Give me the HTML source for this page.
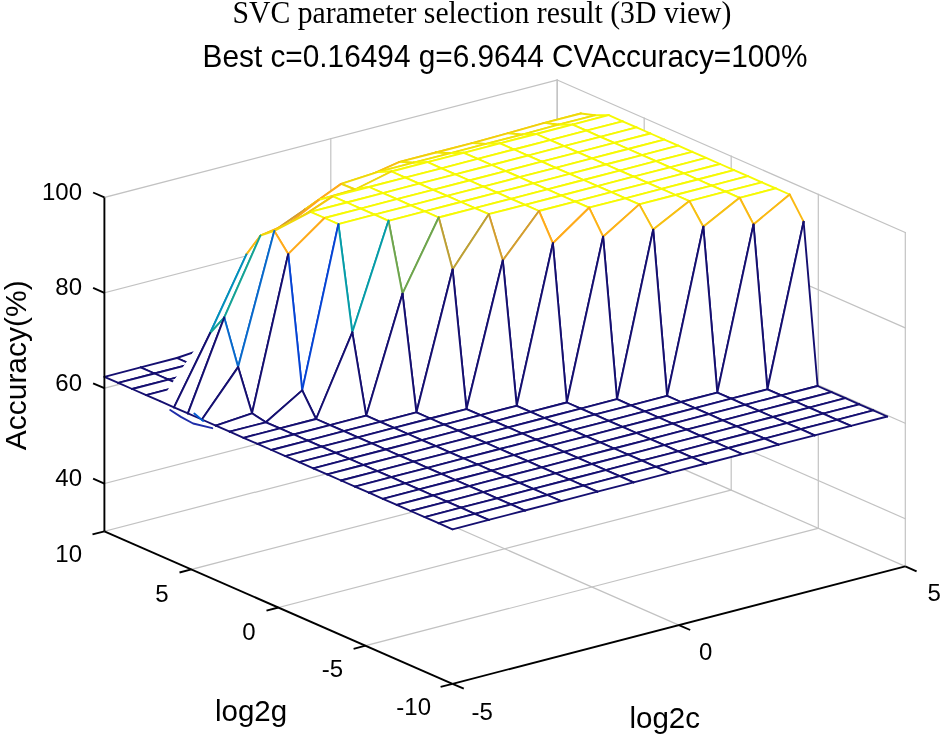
<!DOCTYPE html>
<html><head><meta charset="utf-8"><style>html,body{margin:0;padding:0;background:#fff;}body{width:942px;height:739px;position:relative;overflow:hidden;}</style></head>
<body>
<svg width="942" height="739" viewBox="0 0 942 739" style="position:absolute;left:0;top:0">
<g stroke-linecap="square"><line x1="104.4" y1="483.6" x2="557.2" y2="366.2" stroke="#c2c2c2" stroke-width="1.2"/><line x1="557.2" y1="366.2" x2="905.3" y2="518.7" stroke="#c2c2c2" stroke-width="1.2"/><line x1="104.4" y1="388.2" x2="557.2" y2="270.8" stroke="#c2c2c2" stroke-width="1.2"/><line x1="557.2" y1="270.8" x2="905.3" y2="423.3" stroke="#c2c2c2" stroke-width="1.2"/><line x1="104.4" y1="292.8" x2="557.2" y2="175.4" stroke="#c2c2c2" stroke-width="1.2"/><line x1="557.2" y1="175.4" x2="905.3" y2="327.9" stroke="#c2c2c2" stroke-width="1.2"/><line x1="104.4" y1="197.4" x2="557.2" y2="80" stroke="#c2c2c2" stroke-width="1.2"/><line x1="557.2" y1="80" x2="905.3" y2="232.5" stroke="#c2c2c2" stroke-width="1.2"/><line x1="330.8" y1="472.6" x2="330.8" y2="138.7" stroke="#c2c2c2" stroke-width="1.2"/><line x1="557.2" y1="413.9" x2="557.2" y2="80" stroke="#c2c2c2" stroke-width="1.2"/><line x1="557.2" y1="413.9" x2="557.2" y2="80" stroke="#c2c2c2" stroke-width="1.2"/><line x1="644.2" y1="452" x2="644.2" y2="118.1" stroke="#c2c2c2" stroke-width="1.2"/><line x1="731.2" y1="490.1" x2="731.2" y2="156.2" stroke="#c2c2c2" stroke-width="1.2"/><line x1="818.3" y1="528.3" x2="818.3" y2="194.4" stroke="#c2c2c2" stroke-width="1.2"/><line x1="905.3" y1="566.4" x2="905.3" y2="232.5" stroke="#c2c2c2" stroke-width="1.2"/><line x1="678.9" y1="625.1" x2="330.8" y2="472.6" stroke="#c2c2c2" stroke-width="1.2"/><line x1="905.3" y1="566.4" x2="557.2" y2="413.9" stroke="#c2c2c2" stroke-width="1.2"/><line x1="104.4" y1="531.3" x2="557.2" y2="413.9" stroke="#c2c2c2" stroke-width="1.2"/><line x1="191.4" y1="569.4" x2="644.2" y2="452" stroke="#c2c2c2" stroke-width="1.2"/><line x1="278.4" y1="607.5" x2="731.2" y2="490.1" stroke="#c2c2c2" stroke-width="1.2"/><line x1="365.5" y1="645.7" x2="818.3" y2="528.3" stroke="#c2c2c2" stroke-width="1.2"/></g>
<g stroke-width="1.9" stroke-linecap="round"><polygon points="516.8,143.1 553,133.7 539.1,151.5 502.9,160.9" fill="#fff" stroke="none"/><line x1="516.8" y1="143.1" x2="553" y2="133.7" stroke="#c89f32"/><line x1="553" y1="133.7" x2="539.1" y2="151.5" stroke="#c89f32"/><line x1="502.9" y1="160.9" x2="539.1" y2="151.5" stroke="#6ea54d"/><line x1="516.8" y1="143.1" x2="502.9" y2="160.9" stroke="#c89f32"/><polygon points="530.7,131.1 566.9,121.7 553,133.7 516.8,143.1" fill="#fff" stroke="none"/><line x1="530.7" y1="131.1" x2="566.9" y2="121.7" stroke="#fdb216"/><line x1="566.9" y1="121.7" x2="553" y2="133.7" stroke="#fdb216"/><line x1="516.8" y1="143.1" x2="553" y2="133.7" stroke="#c89f32"/><line x1="530.7" y1="131.1" x2="516.8" y2="143.1" stroke="#fdb216"/><polygon points="480.6,154.9 516.8,143.1 502.9,160.9 466.6,172.6" fill="#fff" stroke="none"/><line x1="480.6" y1="154.9" x2="516.8" y2="143.1" stroke="#bda035"/><line x1="516.8" y1="143.1" x2="502.9" y2="160.9" stroke="#c89f32"/><line x1="466.6" y1="172.6" x2="502.9" y2="160.9" stroke="#62a551"/><line x1="480.6" y1="154.9" x2="466.6" y2="172.6" stroke="#bda035"/><polygon points="544.6,122.9 580.9,113.5 566.9,121.7 530.7,131.1" fill="#fff" stroke="none"/><line x1="544.6" y1="122.9" x2="580.9" y2="113.5" stroke="#efd80a"/><line x1="580.9" y1="113.5" x2="566.9" y2="121.7" stroke="#efd80a"/><line x1="530.7" y1="131.1" x2="566.9" y2="121.7" stroke="#fdb216"/><line x1="544.6" y1="122.9" x2="530.7" y2="131.1" stroke="#efd80a"/><polygon points="494.5,141.9 530.7,131.1 516.8,143.1 480.6,154.9" fill="#fff" stroke="none"/><line x1="494.5" y1="141.9" x2="530.7" y2="131.1" stroke="#ffab1a"/><line x1="530.7" y1="131.1" x2="516.8" y2="143.1" stroke="#fdb216"/><line x1="480.6" y1="154.9" x2="516.8" y2="143.1" stroke="#bda035"/><line x1="494.5" y1="141.9" x2="480.6" y2="154.9" stroke="#ffab1a"/><polygon points="558.6,124.7 594.8,115.3 580.9,113.5 544.6,122.9" fill="#fff" stroke="none"/><line x1="558.6" y1="124.7" x2="594.8" y2="115.3" stroke="#f0e207"/><line x1="594.8" y1="115.3" x2="580.9" y2="113.5" stroke="#f0e207"/><line x1="544.6" y1="122.9" x2="580.9" y2="113.5" stroke="#efd80a"/><line x1="558.6" y1="124.7" x2="544.6" y2="122.9" stroke="#f0e207"/><polygon points="444.3,166.7 480.6,154.9 466.6,172.6 430.4,184.4" fill="#fff" stroke="none"/><line x1="444.3" y1="166.7" x2="480.6" y2="154.9" stroke="#b2a138"/><line x1="480.6" y1="154.9" x2="466.6" y2="172.6" stroke="#bda035"/><line x1="430.4" y1="184.4" x2="466.6" y2="172.6" stroke="#57a556"/><line x1="444.3" y1="166.7" x2="430.4" y2="184.4" stroke="#b2a138"/><polygon points="508.4,133.2 544.6,122.9 530.7,131.1 494.5,141.9" fill="#fff" stroke="none"/><line x1="508.4" y1="133.2" x2="544.6" y2="122.9" stroke="#f1cf0c"/><line x1="544.6" y1="122.9" x2="530.7" y2="131.1" stroke="#efd80a"/><line x1="494.5" y1="141.9" x2="530.7" y2="131.1" stroke="#ffab1a"/><line x1="508.4" y1="133.2" x2="494.5" y2="141.9" stroke="#f1cf0c"/><polygon points="572.5,124.6 608.7,115.2 594.8,115.3 558.6,124.7" fill="#fff" stroke="none"/><line x1="572.5" y1="124.6" x2="608.7" y2="115.2" stroke="#f6f903"/><line x1="608.7" y1="115.2" x2="594.8" y2="115.3" stroke="#f6f903"/><line x1="558.6" y1="124.7" x2="594.8" y2="115.3" stroke="#f0e207"/><line x1="572.5" y1="124.6" x2="558.6" y2="124.7" stroke="#f6f903"/><polygon points="458.3,152.3 494.5,141.9 480.6,154.9 444.3,166.7" fill="#fff" stroke="none"/><line x1="458.3" y1="152.3" x2="494.5" y2="141.9" stroke="#ffab1a"/><line x1="494.5" y1="141.9" x2="480.6" y2="154.9" stroke="#ffab1a"/><line x1="444.3" y1="166.7" x2="480.6" y2="154.9" stroke="#b2a138"/><line x1="458.3" y1="152.3" x2="444.3" y2="166.7" stroke="#ffab1a"/><polygon points="522.3,134.6 558.6,124.7 544.6,122.9 508.4,133.2" fill="#fff" stroke="none"/><line x1="522.3" y1="134.6" x2="558.6" y2="124.7" stroke="#f0e207"/><line x1="558.6" y1="124.7" x2="544.6" y2="122.9" stroke="#f0e207"/><line x1="508.4" y1="133.2" x2="544.6" y2="122.9" stroke="#f1cf0c"/><line x1="522.3" y1="134.6" x2="508.4" y2="133.2" stroke="#f0e207"/><polygon points="408.1,178.4 444.3,166.7 430.4,184.4 394.2,198.6" fill="#fff" stroke="none"/><line x1="408.1" y1="178.4" x2="444.3" y2="166.7" stroke="#b2a138"/><line x1="444.3" y1="166.7" x2="430.4" y2="184.4" stroke="#b2a138"/><line x1="394.2" y1="198.6" x2="430.4" y2="184.4" stroke="#4cae6e"/><line x1="408.1" y1="178.4" x2="394.2" y2="198.6" stroke="#b2a138"/><polygon points="586.4,130.7 622.6,121.3 608.7,115.2 572.5,124.6" fill="#fff" stroke="none"/><line x1="586.4" y1="130.7" x2="622.6" y2="121.3" stroke="#f6f903"/><line x1="622.6" y1="121.3" x2="608.7" y2="115.2" stroke="#f6f903"/><line x1="572.5" y1="124.6" x2="608.7" y2="115.2" stroke="#f6f903"/><line x1="586.4" y1="130.7" x2="572.5" y2="124.6" stroke="#f6f903"/><polygon points="472.2,143.1 508.4,133.2 494.5,141.9 458.3,152.3" fill="#fff" stroke="none"/><line x1="472.2" y1="143.1" x2="508.4" y2="133.2" stroke="#f1cf0c"/><line x1="508.4" y1="133.2" x2="494.5" y2="141.9" stroke="#f1cf0c"/><line x1="458.3" y1="152.3" x2="494.5" y2="141.9" stroke="#ffab1a"/><line x1="472.2" y1="143.1" x2="458.3" y2="152.3" stroke="#f1cf0c"/><polygon points="536.3,134 572.5,124.6 558.6,124.7 522.3,134.6" fill="#fff" stroke="none"/><line x1="536.3" y1="134" x2="572.5" y2="124.6" stroke="#f6f903"/><line x1="572.5" y1="124.6" x2="558.6" y2="124.7" stroke="#f6f903"/><line x1="522.3" y1="134.6" x2="558.6" y2="124.7" stroke="#f0e207"/><line x1="536.3" y1="134" x2="522.3" y2="134.6" stroke="#f6f903"/><polygon points="422,163.1 458.3,152.3 444.3,166.7 408.1,178.4" fill="#fff" stroke="none"/><line x1="422" y1="163.1" x2="458.3" y2="152.3" stroke="#fda41e"/><line x1="458.3" y1="152.3" x2="444.3" y2="166.7" stroke="#ffab1a"/><line x1="408.1" y1="178.4" x2="444.3" y2="166.7" stroke="#b2a138"/><line x1="422" y1="163.1" x2="408.1" y2="178.4" stroke="#fda41e"/><polygon points="600.3,136.8 636.6,127.4 622.6,121.3 586.4,130.7" fill="#fff" stroke="none"/><line x1="600.3" y1="136.8" x2="636.6" y2="127.4" stroke="#f6f903"/><line x1="636.6" y1="127.4" x2="622.6" y2="121.3" stroke="#f6f903"/><line x1="586.4" y1="130.7" x2="622.6" y2="121.3" stroke="#f6f903"/><line x1="600.3" y1="136.8" x2="586.4" y2="130.7" stroke="#f6f903"/><polygon points="486.1,143.9 522.3,134.6 508.4,133.2 472.2,143.1" fill="#fff" stroke="none"/><line x1="486.1" y1="143.9" x2="522.3" y2="134.6" stroke="#f0e207"/><line x1="522.3" y1="134.6" x2="508.4" y2="133.2" stroke="#f0e207"/><line x1="472.2" y1="143.1" x2="508.4" y2="133.2" stroke="#f1cf0c"/><line x1="486.1" y1="143.9" x2="472.2" y2="143.1" stroke="#f0e207"/><polygon points="371.9,195 408.1,178.4 394.2,198.6 358,217.5" fill="#fff" stroke="none"/><line x1="371.9" y1="195" x2="408.1" y2="178.4" stroke="#90a342"/><line x1="408.1" y1="178.4" x2="394.2" y2="198.6" stroke="#b2a138"/><line x1="358" y1="217.5" x2="394.2" y2="198.6" stroke="#2caa82"/><line x1="371.9" y1="195" x2="358" y2="217.5" stroke="#90a342"/><polygon points="550.2,140.1 586.4,130.7 572.5,124.6 536.3,134" fill="#fff" stroke="none"/><line x1="550.2" y1="140.1" x2="586.4" y2="130.7" stroke="#f6f903"/><line x1="586.4" y1="130.7" x2="572.5" y2="124.6" stroke="#f6f903"/><line x1="536.3" y1="134" x2="572.5" y2="124.6" stroke="#f6f903"/><line x1="550.2" y1="140.1" x2="536.3" y2="134" stroke="#f6f903"/><polygon points="436,152.5 472.2,143.1 458.3,152.3 422,163.1" fill="#fff" stroke="none"/><line x1="436" y1="152.5" x2="472.2" y2="143.1" stroke="#f1cf0c"/><line x1="472.2" y1="143.1" x2="458.3" y2="152.3" stroke="#f1cf0c"/><line x1="422" y1="163.1" x2="458.3" y2="152.3" stroke="#fda41e"/><line x1="436" y1="152.5" x2="422" y2="163.1" stroke="#f1cf0c"/><polygon points="614.3,142.9 650.5,133.5 636.6,127.4 600.3,136.8" fill="#fff" stroke="none"/><line x1="614.3" y1="142.9" x2="650.5" y2="133.5" stroke="#f6f903"/><line x1="650.5" y1="133.5" x2="636.6" y2="127.4" stroke="#f6f903"/><line x1="600.3" y1="136.8" x2="636.6" y2="127.4" stroke="#f6f903"/><line x1="614.3" y1="142.9" x2="600.3" y2="136.8" stroke="#f6f903"/><polygon points="500,143.4 536.3,134 522.3,134.6 486.1,143.9" fill="#fff" stroke="none"/><line x1="500" y1="143.4" x2="536.3" y2="134" stroke="#f6f903"/><line x1="536.3" y1="134" x2="522.3" y2="134.6" stroke="#f6f903"/><line x1="486.1" y1="143.9" x2="522.3" y2="134.6" stroke="#f0e207"/><line x1="500" y1="143.4" x2="486.1" y2="143.9" stroke="#f6f903"/><polygon points="385.8,179.6 422,163.1 408.1,178.4 371.9,195" fill="#fff" stroke="none"/><line x1="385.8" y1="179.6" x2="422" y2="163.1" stroke="#ea9e28"/><line x1="422" y1="163.1" x2="408.1" y2="178.4" stroke="#fda41e"/><line x1="371.9" y1="195" x2="408.1" y2="178.4" stroke="#90a342"/><line x1="385.8" y1="179.6" x2="371.9" y2="195" stroke="#ea9e28"/><polygon points="564.1,146.2 600.3,136.8 586.4,130.7 550.2,140.1" fill="#fff" stroke="none"/><line x1="564.1" y1="146.2" x2="600.3" y2="136.8" stroke="#f6f903"/><line x1="600.3" y1="136.8" x2="586.4" y2="130.7" stroke="#f6f903"/><line x1="550.2" y1="140.1" x2="586.4" y2="130.7" stroke="#f6f903"/><line x1="564.1" y1="146.2" x2="550.2" y2="140.1" stroke="#f6f903"/><polygon points="449.9,153.3 486.1,143.9 472.2,143.1 436,152.5" fill="#fff" stroke="none"/><line x1="449.9" y1="153.3" x2="486.1" y2="143.9" stroke="#f0e207"/><line x1="486.1" y1="143.9" x2="472.2" y2="143.1" stroke="#f0e207"/><line x1="436" y1="152.5" x2="472.2" y2="143.1" stroke="#f1cf0c"/><line x1="449.9" y1="153.3" x2="436" y2="152.5" stroke="#f0e207"/><polygon points="335.7,213.9 371.9,195 358,217.5 321.7,241.2" fill="#fff" stroke="none"/><line x1="335.7" y1="213.9" x2="371.9" y2="195" stroke="#6ea54d"/><line x1="371.9" y1="195" x2="358" y2="217.5" stroke="#90a342"/><line x1="321.7" y1="241.2" x2="358" y2="217.5" stroke="#0a9ea2"/><line x1="335.7" y1="213.9" x2="321.7" y2="241.2" stroke="#6ea54d"/><polygon points="628.2,149 664.4,139.6 650.5,133.5 614.3,142.9" fill="#fff" stroke="none"/><line x1="628.2" y1="149" x2="664.4" y2="139.6" stroke="#f6f903"/><line x1="664.4" y1="139.6" x2="650.5" y2="133.5" stroke="#f6f903"/><line x1="614.3" y1="142.9" x2="650.5" y2="133.5" stroke="#f6f903"/><line x1="628.2" y1="149" x2="614.3" y2="142.9" stroke="#f6f903"/><polygon points="514,149.5 550.2,140.1 536.3,134 500,143.4" fill="#fff" stroke="none"/><line x1="514" y1="149.5" x2="550.2" y2="140.1" stroke="#f6f903"/><line x1="550.2" y1="140.1" x2="536.3" y2="134" stroke="#f6f903"/><line x1="500" y1="143.4" x2="536.3" y2="134" stroke="#f6f903"/><line x1="514" y1="149.5" x2="500" y2="143.4" stroke="#f6f903"/><polygon points="399.7,161.9 436,152.5 422,163.1 385.8,179.6" fill="#fff" stroke="none"/><line x1="399.7" y1="161.9" x2="436" y2="152.5" stroke="#f1cf0c"/><line x1="436" y1="152.5" x2="422" y2="163.1" stroke="#f1cf0c"/><line x1="385.8" y1="179.6" x2="422" y2="163.1" stroke="#ea9e28"/><line x1="399.7" y1="161.9" x2="385.8" y2="179.6" stroke="#f1cf0c"/><polygon points="578,152.3 614.3,142.9 600.3,136.8 564.1,146.2" fill="#fff" stroke="none"/><line x1="578" y1="152.3" x2="614.3" y2="142.9" stroke="#f6f903"/><line x1="614.3" y1="142.9" x2="600.3" y2="136.8" stroke="#f6f903"/><line x1="564.1" y1="146.2" x2="600.3" y2="136.8" stroke="#f6f903"/><line x1="578" y1="152.3" x2="564.1" y2="146.2" stroke="#f6f903"/><polygon points="463.8,152.8 500,143.4 486.1,143.9 449.9,153.3" fill="#fff" stroke="none"/><line x1="463.8" y1="152.8" x2="500" y2="143.4" stroke="#f6f903"/><line x1="500" y1="143.4" x2="486.1" y2="143.9" stroke="#f6f903"/><line x1="449.9" y1="153.3" x2="486.1" y2="143.9" stroke="#f0e207"/><line x1="463.8" y1="152.8" x2="449.9" y2="153.3" stroke="#f6f903"/><polygon points="349.6,196.2 385.8,179.6 371.9,195 335.7,213.9" fill="#fff" stroke="none"/><line x1="349.6" y1="196.2" x2="385.8" y2="179.6" stroke="#c89f32"/><line x1="385.8" y1="179.6" x2="371.9" y2="195" stroke="#ea9e28"/><line x1="335.7" y1="213.9" x2="371.9" y2="195" stroke="#6ea54d"/><line x1="349.6" y1="196.2" x2="335.7" y2="213.9" stroke="#c89f32"/><polygon points="642.1,155.1 678.3,145.7 664.4,139.6 628.2,149" fill="#fff" stroke="none"/><line x1="642.1" y1="155.1" x2="678.3" y2="145.7" stroke="#f6f903"/><line x1="678.3" y1="145.7" x2="664.4" y2="139.6" stroke="#f6f903"/><line x1="628.2" y1="149" x2="664.4" y2="139.6" stroke="#f6f903"/><line x1="642.1" y1="155.1" x2="628.2" y2="149" stroke="#f6f903"/><polygon points="527.9,155.6 564.1,146.2 550.2,140.1 514,149.5" fill="#fff" stroke="none"/><line x1="527.9" y1="155.6" x2="564.1" y2="146.2" stroke="#f6f903"/><line x1="564.1" y1="146.2" x2="550.2" y2="140.1" stroke="#f6f903"/><line x1="514" y1="149.5" x2="550.2" y2="140.1" stroke="#f6f903"/><line x1="527.9" y1="155.6" x2="514" y2="149.5" stroke="#f6f903"/><polygon points="413.7,162.7 449.9,153.3 436,152.5 399.7,161.9" fill="#fff" stroke="none"/><line x1="413.7" y1="162.7" x2="449.9" y2="153.3" stroke="#f0e207"/><line x1="449.9" y1="153.3" x2="436" y2="152.5" stroke="#f0e207"/><line x1="399.7" y1="161.9" x2="436" y2="152.5" stroke="#f1cf0c"/><line x1="413.7" y1="162.7" x2="399.7" y2="161.9" stroke="#f0e207"/><polygon points="299.4,242.4 335.7,213.9 321.7,241.2 285.5,274.5" fill="#fff" stroke="none"/><line x1="299.4" y1="242.4" x2="335.7" y2="213.9" stroke="#2caa82"/><line x1="335.7" y1="213.9" x2="321.7" y2="241.2" stroke="#6ea54d"/><line x1="285.5" y1="274.5" x2="321.7" y2="241.2" stroke="#057dc6"/><line x1="299.4" y1="242.4" x2="285.5" y2="274.5" stroke="#2caa82"/><polygon points="592,158.4 628.2,149 614.3,142.9 578,152.3" fill="#fff" stroke="none"/><line x1="592" y1="158.4" x2="628.2" y2="149" stroke="#f6f903"/><line x1="628.2" y1="149" x2="614.3" y2="142.9" stroke="#f6f903"/><line x1="578" y1="152.3" x2="614.3" y2="142.9" stroke="#f6f903"/><line x1="592" y1="158.4" x2="578" y2="152.3" stroke="#f6f903"/><polygon points="477.7,158.9 514,149.5 500,143.4 463.8,152.8" fill="#fff" stroke="none"/><line x1="477.7" y1="158.9" x2="514" y2="149.5" stroke="#f6f903"/><line x1="514" y1="149.5" x2="500" y2="143.4" stroke="#f6f903"/><line x1="463.8" y1="152.8" x2="500" y2="143.4" stroke="#f6f903"/><line x1="477.7" y1="158.9" x2="463.8" y2="152.8" stroke="#f6f903"/><polygon points="363.5,178 399.7,161.9 385.8,179.6 349.6,196.2" fill="#fff" stroke="none"/><line x1="363.5" y1="178" x2="399.7" y2="161.9" stroke="#f7c011"/><line x1="399.7" y1="161.9" x2="385.8" y2="179.6" stroke="#f1cf0c"/><line x1="349.6" y1="196.2" x2="385.8" y2="179.6" stroke="#c89f32"/><line x1="363.5" y1="178" x2="349.6" y2="196.2" stroke="#f7c011"/><polygon points="656,161.2 692.3,151.8 678.3,145.7 642.1,155.1" fill="#fff" stroke="none"/><line x1="656" y1="161.2" x2="692.3" y2="151.8" stroke="#f6f903"/><line x1="692.3" y1="151.8" x2="678.3" y2="145.7" stroke="#f6f903"/><line x1="642.1" y1="155.1" x2="678.3" y2="145.7" stroke="#f6f903"/><line x1="656" y1="161.2" x2="642.1" y2="155.1" stroke="#f6f903"/><polygon points="541.8,161.7 578,152.3 564.1,146.2 527.9,155.6" fill="#fff" stroke="none"/><line x1="541.8" y1="161.7" x2="578" y2="152.3" stroke="#f6f903"/><line x1="578" y1="152.3" x2="564.1" y2="146.2" stroke="#f6f903"/><line x1="527.9" y1="155.6" x2="564.1" y2="146.2" stroke="#f6f903"/><line x1="541.8" y1="161.7" x2="527.9" y2="155.6" stroke="#f6f903"/><polygon points="427.6,162.2 463.8,152.8 449.9,153.3 413.7,162.7" fill="#fff" stroke="none"/><line x1="427.6" y1="162.2" x2="463.8" y2="152.8" stroke="#f6f903"/><line x1="463.8" y1="152.8" x2="449.9" y2="153.3" stroke="#f6f903"/><line x1="413.7" y1="162.7" x2="449.9" y2="153.3" stroke="#f0e207"/><line x1="427.6" y1="162.2" x2="413.7" y2="162.7" stroke="#f6f903"/><polygon points="313.4,219.9 349.6,196.2 335.7,213.9 299.4,242.4" fill="#fff" stroke="none"/><line x1="313.4" y1="219.9" x2="349.6" y2="196.2" stroke="#90a342"/><line x1="349.6" y1="196.2" x2="335.7" y2="213.9" stroke="#c89f32"/><line x1="299.4" y1="242.4" x2="335.7" y2="213.9" stroke="#2caa82"/><line x1="313.4" y1="219.9" x2="299.4" y2="242.4" stroke="#90a342"/><polygon points="605.9,164.5 642.1,155.1 628.2,149 592,158.4" fill="#fff" stroke="none"/><line x1="605.9" y1="164.5" x2="642.1" y2="155.1" stroke="#f6f903"/><line x1="642.1" y1="155.1" x2="628.2" y2="149" stroke="#f6f903"/><line x1="592" y1="158.4" x2="628.2" y2="149" stroke="#f6f903"/><line x1="605.9" y1="164.5" x2="592" y2="158.4" stroke="#f6f903"/><polygon points="491.7,165 527.9,155.6 514,149.5 477.7,158.9" fill="#fff" stroke="none"/><line x1="491.7" y1="165" x2="527.9" y2="155.6" stroke="#f6f903"/><line x1="527.9" y1="155.6" x2="514" y2="149.5" stroke="#f6f903"/><line x1="477.7" y1="158.9" x2="514" y2="149.5" stroke="#f6f903"/><line x1="491.7" y1="165" x2="477.7" y2="158.9" stroke="#f6f903"/><polygon points="377.4,172.1 413.7,162.7 399.7,161.9 363.5,178" fill="#fff" stroke="none"/><line x1="377.4" y1="172.1" x2="413.7" y2="162.7" stroke="#f0e207"/><line x1="413.7" y1="162.7" x2="399.7" y2="161.9" stroke="#f0e207"/><line x1="363.5" y1="178" x2="399.7" y2="161.9" stroke="#f7c011"/><line x1="377.4" y1="172.1" x2="363.5" y2="178" stroke="#f0e207"/><polygon points="263.2,280.4 299.4,242.4 285.5,274.5 249.3,312.5" fill="#fff" stroke="none"/><line x1="263.2" y1="280.4" x2="299.4" y2="242.4" stroke="#028fbc"/><line x1="299.4" y1="242.4" x2="285.5" y2="274.5" stroke="#2caa82"/><line x1="249.3" y1="312.5" x2="285.5" y2="274.5" stroke="#0050d9"/><line x1="263.2" y1="280.4" x2="249.3" y2="312.5" stroke="#028fbc"/><polygon points="670,167.3 706.2,157.9 692.3,151.8 656,161.2" fill="#fff" stroke="none"/><line x1="670" y1="167.3" x2="706.2" y2="157.9" stroke="#f6f903"/><line x1="706.2" y1="157.9" x2="692.3" y2="151.8" stroke="#f6f903"/><line x1="656" y1="161.2" x2="692.3" y2="151.8" stroke="#f6f903"/><line x1="670" y1="167.3" x2="656" y2="161.2" stroke="#f6f903"/><polygon points="555.7,167.8 592,158.4 578,152.3 541.8,161.7" fill="#fff" stroke="none"/><line x1="555.7" y1="167.8" x2="592" y2="158.4" stroke="#f6f903"/><line x1="592" y1="158.4" x2="578" y2="152.3" stroke="#f6f903"/><line x1="541.8" y1="161.7" x2="578" y2="152.3" stroke="#f6f903"/><line x1="555.7" y1="167.8" x2="541.8" y2="161.7" stroke="#f6f903"/><polygon points="441.5,168.3 477.7,158.9 463.8,152.8 427.6,162.2" fill="#fff" stroke="none"/><line x1="441.5" y1="168.3" x2="477.7" y2="158.9" stroke="#f6f903"/><line x1="477.7" y1="158.9" x2="463.8" y2="152.8" stroke="#f6f903"/><line x1="427.6" y1="162.2" x2="463.8" y2="152.8" stroke="#f6f903"/><line x1="441.5" y1="168.3" x2="427.6" y2="162.2" stroke="#f6f903"/><polygon points="327.3,197.4 363.5,178 349.6,196.2 313.4,219.9" fill="#fff" stroke="none"/><line x1="327.3" y1="197.4" x2="363.5" y2="178" stroke="#fda41e"/><line x1="363.5" y1="178" x2="349.6" y2="196.2" stroke="#f7c011"/><line x1="313.4" y1="219.9" x2="349.6" y2="196.2" stroke="#90a342"/><line x1="327.3" y1="197.4" x2="313.4" y2="219.9" stroke="#fda41e"/><polygon points="619.8,170.6 656,161.2 642.1,155.1 605.9,164.5" fill="#fff" stroke="none"/><line x1="619.8" y1="170.6" x2="656" y2="161.2" stroke="#f6f903"/><line x1="656" y1="161.2" x2="642.1" y2="155.1" stroke="#f6f903"/><line x1="605.9" y1="164.5" x2="642.1" y2="155.1" stroke="#f6f903"/><line x1="619.8" y1="170.6" x2="605.9" y2="164.5" stroke="#f6f903"/><polygon points="505.6,171.1 541.8,161.7 527.9,155.6 491.7,165" fill="#fff" stroke="none"/><line x1="505.6" y1="171.1" x2="541.8" y2="161.7" stroke="#f6f903"/><line x1="541.8" y1="161.7" x2="527.9" y2="155.6" stroke="#f6f903"/><line x1="491.7" y1="165" x2="527.9" y2="155.6" stroke="#f6f903"/><line x1="505.6" y1="171.1" x2="491.7" y2="165" stroke="#f6f903"/><polygon points="391.4,171.5 427.6,162.2 413.7,162.7 377.4,172.1" fill="#fff" stroke="none"/><line x1="391.4" y1="171.5" x2="427.6" y2="162.2" stroke="#f6f903"/><line x1="427.6" y1="162.2" x2="413.7" y2="162.7" stroke="#f6f903"/><line x1="377.4" y1="172.1" x2="413.7" y2="162.7" stroke="#f0e207"/><line x1="391.4" y1="171.5" x2="377.4" y2="172.1" stroke="#f6f903"/><polygon points="277.1,248.4 313.4,219.9 299.4,242.4 263.2,280.4" fill="#fff" stroke="none"/><line x1="277.1" y1="248.4" x2="313.4" y2="219.9" stroke="#4cae6e"/><line x1="313.4" y1="219.9" x2="299.4" y2="242.4" stroke="#90a342"/><line x1="263.2" y1="280.4" x2="299.4" y2="242.4" stroke="#028fbc"/><line x1="277.1" y1="248.4" x2="263.2" y2="280.4" stroke="#4cae6e"/><polygon points="683.9,173.4 720.1,164 706.2,157.9 670,167.3" fill="#fff" stroke="none"/><line x1="683.9" y1="173.4" x2="720.1" y2="164" stroke="#f6f903"/><line x1="720.1" y1="164" x2="706.2" y2="157.9" stroke="#f6f903"/><line x1="670" y1="167.3" x2="706.2" y2="157.9" stroke="#f6f903"/><line x1="683.9" y1="173.4" x2="670" y2="167.3" stroke="#f6f903"/><polygon points="569.7,173.9 605.9,164.5 592,158.4 555.7,167.8" fill="#fff" stroke="none"/><line x1="569.7" y1="173.9" x2="605.9" y2="164.5" stroke="#f6f903"/><line x1="605.9" y1="164.5" x2="592" y2="158.4" stroke="#f6f903"/><line x1="555.7" y1="167.8" x2="592" y2="158.4" stroke="#f6f903"/><line x1="569.7" y1="173.9" x2="555.7" y2="167.8" stroke="#f6f903"/><polygon points="455.4,174.4 491.7,165 477.7,158.9 441.5,168.3" fill="#fff" stroke="none"/><line x1="455.4" y1="174.4" x2="491.7" y2="165" stroke="#f6f903"/><line x1="491.7" y1="165" x2="477.7" y2="158.9" stroke="#f6f903"/><line x1="441.5" y1="168.3" x2="477.7" y2="158.9" stroke="#f6f903"/><line x1="455.4" y1="174.4" x2="441.5" y2="168.3" stroke="#f6f903"/><polygon points="341.2,183.9 377.4,172.1 363.5,178 327.3,197.4" fill="#fff" stroke="none"/><line x1="341.2" y1="183.9" x2="377.4" y2="172.1" stroke="#efd80a"/><line x1="377.4" y1="172.1" x2="363.5" y2="178" stroke="#f0e207"/><line x1="327.3" y1="197.4" x2="363.5" y2="178" stroke="#fda41e"/><line x1="341.2" y1="183.9" x2="327.3" y2="197.4" stroke="#efd80a"/><polygon points="227,328 263.2,280.4 249.3,312.5 213.1,345.7" fill="#fff" stroke="none"/><line x1="227" y1="328" x2="263.2" y2="280.4" stroke="#0050d9"/><line x1="263.2" y1="280.4" x2="249.3" y2="312.5" stroke="#028fbc"/><line x1="213.1" y1="345.7" x2="249.3" y2="312.5" stroke="#150f70"/><line x1="227" y1="328" x2="213.1" y2="345.7" stroke="#0050d9"/><polygon points="633.7,176.7 670,167.3 656,161.2 619.8,170.6" fill="#fff" stroke="none"/><line x1="633.7" y1="176.7" x2="670" y2="167.3" stroke="#f6f903"/><line x1="670" y1="167.3" x2="656" y2="161.2" stroke="#f6f903"/><line x1="619.8" y1="170.6" x2="656" y2="161.2" stroke="#f6f903"/><line x1="633.7" y1="176.7" x2="619.8" y2="170.6" stroke="#f6f903"/><polygon points="519.5,177.2 555.7,167.8 541.8,161.7 505.6,171.1" fill="#fff" stroke="none"/><line x1="519.5" y1="177.2" x2="555.7" y2="167.8" stroke="#f6f903"/><line x1="555.7" y1="167.8" x2="541.8" y2="161.7" stroke="#f6f903"/><line x1="505.6" y1="171.1" x2="541.8" y2="161.7" stroke="#f6f903"/><line x1="519.5" y1="177.2" x2="505.6" y2="171.1" stroke="#f6f903"/><polygon points="405.3,177.6 441.5,168.3 427.6,162.2 391.4,171.5" fill="#fff" stroke="none"/><line x1="405.3" y1="177.6" x2="441.5" y2="168.3" stroke="#f6f903"/><line x1="441.5" y1="168.3" x2="427.6" y2="162.2" stroke="#f6f903"/><line x1="391.4" y1="171.5" x2="427.6" y2="162.2" stroke="#f6f903"/><line x1="405.3" y1="177.6" x2="391.4" y2="171.5" stroke="#f6f903"/><polygon points="291.1,223.4 327.3,197.4 313.4,219.9 277.1,248.4" fill="#fff" stroke="none"/><line x1="291.1" y1="223.4" x2="327.3" y2="197.4" stroke="#bda035"/><line x1="327.3" y1="197.4" x2="313.4" y2="219.9" stroke="#fda41e"/><line x1="277.1" y1="248.4" x2="313.4" y2="219.9" stroke="#4cae6e"/><line x1="291.1" y1="223.4" x2="277.1" y2="248.4" stroke="#bda035"/><polygon points="697.8,179.5 734,170.1 720.1,164 683.9,173.4" fill="#fff" stroke="none"/><line x1="697.8" y1="179.5" x2="734" y2="170.1" stroke="#f6f903"/><line x1="734" y1="170.1" x2="720.1" y2="164" stroke="#f6f903"/><line x1="683.9" y1="173.4" x2="720.1" y2="164" stroke="#f6f903"/><line x1="697.8" y1="179.5" x2="683.9" y2="173.4" stroke="#f6f903"/><polygon points="583.6,180 619.8,170.6 605.9,164.5 569.7,173.9" fill="#fff" stroke="none"/><line x1="583.6" y1="180" x2="619.8" y2="170.6" stroke="#f6f903"/><line x1="619.8" y1="170.6" x2="605.9" y2="164.5" stroke="#f6f903"/><line x1="569.7" y1="173.9" x2="605.9" y2="164.5" stroke="#f6f903"/><line x1="583.6" y1="180" x2="569.7" y2="173.9" stroke="#f6f903"/><polygon points="469.4,180.5 505.6,171.1 491.7,165 455.4,174.4" fill="#fff" stroke="none"/><line x1="469.4" y1="180.5" x2="505.6" y2="171.1" stroke="#f6f903"/><line x1="505.6" y1="171.1" x2="491.7" y2="165" stroke="#f6f903"/><line x1="455.4" y1="174.4" x2="491.7" y2="165" stroke="#f6f903"/><line x1="469.4" y1="180.5" x2="455.4" y2="174.4" stroke="#f6f903"/><polygon points="355.1,189.5 391.4,171.5 377.4,172.1 341.2,183.9" fill="#fff" stroke="none"/><line x1="355.1" y1="189.5" x2="391.4" y2="171.5" stroke="#efd80a"/><line x1="391.4" y1="171.5" x2="377.4" y2="172.1" stroke="#f6f903"/><line x1="341.2" y1="183.9" x2="377.4" y2="172.1" stroke="#efd80a"/><line x1="355.1" y1="189.5" x2="341.2" y2="183.9" stroke="#efd80a"/><polygon points="240.9,295.9 277.1,248.4 263.2,280.4 227,328" fill="#fff" stroke="none"/><line x1="240.9" y1="295.9" x2="277.1" y2="248.4" stroke="#028fbc"/><line x1="277.1" y1="248.4" x2="263.2" y2="280.4" stroke="#4cae6e"/><line x1="227" y1="328" x2="263.2" y2="280.4" stroke="#0050d9"/><line x1="240.9" y1="295.9" x2="227" y2="328" stroke="#028fbc"/><polygon points="647.7,182.8 683.9,173.4 670,167.3 633.7,176.7" fill="#fff" stroke="none"/><line x1="647.7" y1="182.8" x2="683.9" y2="173.4" stroke="#f6f903"/><line x1="683.9" y1="173.4" x2="670" y2="167.3" stroke="#f6f903"/><line x1="633.7" y1="176.7" x2="670" y2="167.3" stroke="#f6f903"/><line x1="647.7" y1="182.8" x2="633.7" y2="176.7" stroke="#f6f903"/><polygon points="533.4,183.3 569.7,173.9 555.7,167.8 519.5,177.2" fill="#fff" stroke="none"/><line x1="533.4" y1="183.3" x2="569.7" y2="173.9" stroke="#f6f903"/><line x1="569.7" y1="173.9" x2="555.7" y2="167.8" stroke="#f6f903"/><line x1="519.5" y1="177.2" x2="555.7" y2="167.8" stroke="#f6f903"/><line x1="533.4" y1="183.3" x2="519.5" y2="177.2" stroke="#f6f903"/><polygon points="419.2,183.7 455.4,174.4 441.5,168.3 405.3,177.6" fill="#fff" stroke="none"/><line x1="419.2" y1="183.7" x2="455.4" y2="174.4" stroke="#f6f903"/><line x1="455.4" y1="174.4" x2="441.5" y2="168.3" stroke="#f6f903"/><line x1="405.3" y1="177.6" x2="441.5" y2="168.3" stroke="#f6f903"/><line x1="419.2" y1="183.7" x2="405.3" y2="177.6" stroke="#f6f903"/><polygon points="305,209.5 341.2,183.9 327.3,197.4 291.1,223.4" fill="#fff" stroke="none"/><line x1="305" y1="209.5" x2="341.2" y2="183.9" stroke="#ffab1a"/><line x1="341.2" y1="183.9" x2="327.3" y2="197.4" stroke="#efd80a"/><line x1="291.1" y1="223.4" x2="327.3" y2="197.4" stroke="#bda035"/><line x1="305" y1="209.5" x2="291.1" y2="223.4" stroke="#ffab1a"/><polygon points="190.8,364.1 227,328 213.1,345.7 176.8,358" fill="#fff" stroke="none"/><line x1="190.8" y1="364.1" x2="227" y2="328" stroke="#150f70"/><line x1="227" y1="328" x2="213.1" y2="345.7" stroke="#0050d9"/><line x1="176.8" y1="358" x2="213.1" y2="345.7" stroke="#150f70"/><line x1="190.8" y1="364.1" x2="176.8" y2="358" stroke="#150f70"/><polygon points="711.7,185.6 747.9,176.2 734,170.1 697.8,179.5" fill="#fff" stroke="none"/><line x1="711.7" y1="185.6" x2="747.9" y2="176.2" stroke="#f6f903"/><line x1="747.9" y1="176.2" x2="734" y2="170.1" stroke="#f6f903"/><line x1="697.8" y1="179.5" x2="734" y2="170.1" stroke="#f6f903"/><line x1="711.7" y1="185.6" x2="697.8" y2="179.5" stroke="#f6f903"/><polygon points="597.5,186.1 633.7,176.7 619.8,170.6 583.6,180" fill="#fff" stroke="none"/><line x1="597.5" y1="186.1" x2="633.7" y2="176.7" stroke="#f6f903"/><line x1="633.7" y1="176.7" x2="619.8" y2="170.6" stroke="#f6f903"/><line x1="583.6" y1="180" x2="619.8" y2="170.6" stroke="#f6f903"/><line x1="597.5" y1="186.1" x2="583.6" y2="180" stroke="#f6f903"/><polygon points="483.3,186.6 519.5,177.2 505.6,171.1 469.4,180.5" fill="#fff" stroke="none"/><line x1="483.3" y1="186.6" x2="519.5" y2="177.2" stroke="#f6f903"/><line x1="519.5" y1="177.2" x2="505.6" y2="171.1" stroke="#f6f903"/><line x1="469.4" y1="180.5" x2="505.6" y2="171.1" stroke="#f6f903"/><line x1="483.3" y1="186.6" x2="469.4" y2="180.5" stroke="#f6f903"/><polygon points="369.1,187 405.3,177.6 391.4,171.5 355.1,189.5" fill="#fff" stroke="none"/><line x1="369.1" y1="187" x2="405.3" y2="177.6" stroke="#f6f903"/><line x1="405.3" y1="177.6" x2="391.4" y2="171.5" stroke="#f6f903"/><line x1="355.1" y1="189.5" x2="391.4" y2="171.5" stroke="#efd80a"/><line x1="369.1" y1="187" x2="355.1" y2="189.5" stroke="#f6f903"/><polygon points="254.8,254.3 291.1,223.4 277.1,248.4 240.9,295.9" fill="#fff" stroke="none"/><line x1="254.8" y1="254.3" x2="291.1" y2="223.4" stroke="#6ea54d"/><line x1="291.1" y1="223.4" x2="277.1" y2="248.4" stroke="#bda035"/><line x1="240.9" y1="295.9" x2="277.1" y2="248.4" stroke="#028fbc"/><line x1="254.8" y1="254.3" x2="240.9" y2="295.9" stroke="#6ea54d"/><polygon points="661.6,188.9 697.8,179.5 683.9,173.4 647.7,182.8" fill="#fff" stroke="none"/><line x1="661.6" y1="188.9" x2="697.8" y2="179.5" stroke="#f6f903"/><line x1="697.8" y1="179.5" x2="683.9" y2="173.4" stroke="#f6f903"/><line x1="647.7" y1="182.8" x2="683.9" y2="173.4" stroke="#f6f903"/><line x1="661.6" y1="188.9" x2="647.7" y2="182.8" stroke="#f6f903"/><polygon points="547.4,189.4 583.6,180 569.7,173.9 533.4,183.3" fill="#fff" stroke="none"/><line x1="547.4" y1="189.4" x2="583.6" y2="180" stroke="#f6f903"/><line x1="583.6" y1="180" x2="569.7" y2="173.9" stroke="#f6f903"/><line x1="533.4" y1="183.3" x2="569.7" y2="173.9" stroke="#f6f903"/><line x1="547.4" y1="189.4" x2="533.4" y2="183.3" stroke="#f6f903"/><polygon points="433.1,189.8 469.4,180.5 455.4,174.4 419.2,183.7" fill="#fff" stroke="none"/><line x1="433.1" y1="189.8" x2="469.4" y2="180.5" stroke="#f6f903"/><line x1="469.4" y1="180.5" x2="455.4" y2="174.4" stroke="#f6f903"/><line x1="419.2" y1="183.7" x2="455.4" y2="174.4" stroke="#f6f903"/><line x1="433.1" y1="189.8" x2="419.2" y2="183.7" stroke="#f6f903"/><polygon points="318.9,199.9 355.1,189.5 341.2,183.9 305,209.5" fill="#fff" stroke="none"/><line x1="318.9" y1="199.9" x2="355.1" y2="189.5" stroke="#efd80a"/><line x1="355.1" y1="189.5" x2="341.2" y2="183.9" stroke="#efd80a"/><line x1="305" y1="209.5" x2="341.2" y2="183.9" stroke="#ffab1a"/><line x1="318.9" y1="199.9" x2="305" y2="209.5" stroke="#efd80a"/><polygon points="204.7,370.2 240.9,295.9 227,328 190.8,364.1" fill="#fff" stroke="none"/><line x1="204.7" y1="370.2" x2="240.9" y2="295.9" stroke="#150f70"/><line x1="240.9" y1="295.9" x2="227" y2="328" stroke="#028fbc"/><line x1="190.8" y1="364.1" x2="227" y2="328" stroke="#150f70"/><line x1="204.7" y1="370.2" x2="190.8" y2="364.1" stroke="#150f70"/><polygon points="725.6,191.7 761.9,182.3 747.9,176.2 711.7,185.6" fill="#fff" stroke="none"/><line x1="725.6" y1="191.7" x2="761.9" y2="182.3" stroke="#f6f903"/><line x1="761.9" y1="182.3" x2="747.9" y2="176.2" stroke="#f6f903"/><line x1="711.7" y1="185.6" x2="747.9" y2="176.2" stroke="#f6f903"/><line x1="725.6" y1="191.7" x2="711.7" y2="185.6" stroke="#f6f903"/><polygon points="611.4,192.2 647.7,182.8 633.7,176.7 597.5,186.1" fill="#fff" stroke="none"/><line x1="611.4" y1="192.2" x2="647.7" y2="182.8" stroke="#f6f903"/><line x1="647.7" y1="182.8" x2="633.7" y2="176.7" stroke="#f6f903"/><line x1="597.5" y1="186.1" x2="633.7" y2="176.7" stroke="#f6f903"/><line x1="611.4" y1="192.2" x2="597.5" y2="186.1" stroke="#f6f903"/><polygon points="497.2,192.7 533.4,183.3 519.5,177.2 483.3,186.6" fill="#fff" stroke="none"/><line x1="497.2" y1="192.7" x2="533.4" y2="183.3" stroke="#f6f903"/><line x1="533.4" y1="183.3" x2="519.5" y2="177.2" stroke="#f6f903"/><line x1="483.3" y1="186.6" x2="519.5" y2="177.2" stroke="#f6f903"/><line x1="497.2" y1="192.7" x2="483.3" y2="186.6" stroke="#f6f903"/><polygon points="383,193.1 419.2,183.7 405.3,177.6 369.1,187" fill="#fff" stroke="none"/><line x1="383" y1="193.1" x2="419.2" y2="183.7" stroke="#f6f903"/><line x1="419.2" y1="183.7" x2="405.3" y2="177.6" stroke="#f6f903"/><line x1="369.1" y1="187" x2="405.3" y2="177.6" stroke="#f6f903"/><line x1="383" y1="193.1" x2="369.1" y2="187" stroke="#f6f903"/><polygon points="268.8,234.6 305,209.5 291.1,223.4 254.8,254.3" fill="#fff" stroke="none"/><line x1="268.8" y1="234.6" x2="305" y2="209.5" stroke="#d39e2f"/><line x1="305" y1="209.5" x2="291.1" y2="223.4" stroke="#ffab1a"/><line x1="254.8" y1="254.3" x2="291.1" y2="223.4" stroke="#6ea54d"/><line x1="268.8" y1="234.6" x2="254.8" y2="254.3" stroke="#d39e2f"/><polygon points="154.5,373.5 190.8,364.1 176.8,358 140.6,367.4" fill="#fff" stroke="none"/><line x1="154.5" y1="373.5" x2="190.8" y2="364.1" stroke="#150f70"/><line x1="190.8" y1="364.1" x2="176.8" y2="358" stroke="#150f70"/><line x1="140.6" y1="367.4" x2="176.8" y2="358" stroke="#150f70"/><line x1="154.5" y1="373.5" x2="140.6" y2="367.4" stroke="#150f70"/><polygon points="675.5,195 711.7,185.6 697.8,179.5 661.6,188.9" fill="#fff" stroke="none"/><line x1="675.5" y1="195" x2="711.7" y2="185.6" stroke="#f6f903"/><line x1="711.7" y1="185.6" x2="697.8" y2="179.5" stroke="#f6f903"/><line x1="661.6" y1="188.9" x2="697.8" y2="179.5" stroke="#f6f903"/><line x1="675.5" y1="195" x2="661.6" y2="188.9" stroke="#f6f903"/><polygon points="561.3,195.5 597.5,186.1 583.6,180 547.4,189.4" fill="#fff" stroke="none"/><line x1="561.3" y1="195.5" x2="597.5" y2="186.1" stroke="#f6f903"/><line x1="597.5" y1="186.1" x2="583.6" y2="180" stroke="#f6f903"/><line x1="547.4" y1="189.4" x2="583.6" y2="180" stroke="#f6f903"/><line x1="561.3" y1="195.5" x2="547.4" y2="189.4" stroke="#f6f903"/><polygon points="447.1,195.9 483.3,186.6 469.4,180.5 433.1,189.8" fill="#fff" stroke="none"/><line x1="447.1" y1="195.9" x2="483.3" y2="186.6" stroke="#f6f903"/><line x1="483.3" y1="186.6" x2="469.4" y2="180.5" stroke="#f6f903"/><line x1="433.1" y1="189.8" x2="469.4" y2="180.5" stroke="#f6f903"/><line x1="447.1" y1="195.9" x2="433.1" y2="189.8" stroke="#f6f903"/><polygon points="332.8,196.4 369.1,187 355.1,189.5 318.9,199.9" fill="#fff" stroke="none"/><line x1="332.8" y1="196.4" x2="369.1" y2="187" stroke="#f6f903"/><line x1="369.1" y1="187" x2="355.1" y2="189.5" stroke="#f6f903"/><line x1="318.9" y1="199.9" x2="355.1" y2="189.5" stroke="#efd80a"/><line x1="332.8" y1="196.4" x2="318.9" y2="199.9" stroke="#f6f903"/><polygon points="218.6,368.6 254.8,254.3 240.9,295.9 204.7,370.2" fill="#fff" stroke="none"/><line x1="218.6" y1="368.6" x2="254.8" y2="254.3" stroke="#22228b"/><line x1="254.8" y1="254.3" x2="240.9" y2="295.9" stroke="#6ea54d"/><line x1="204.7" y1="370.2" x2="240.9" y2="295.9" stroke="#150f70"/><line x1="218.6" y1="368.6" x2="204.7" y2="370.2" stroke="#22228b"/><polygon points="739.6,197.8 775.8,188.4 761.9,182.3 725.6,191.7" fill="#fff" stroke="none"/><line x1="739.6" y1="197.8" x2="775.8" y2="188.4" stroke="#f6f903"/><line x1="775.8" y1="188.4" x2="761.9" y2="182.3" stroke="#f6f903"/><line x1="725.6" y1="191.7" x2="761.9" y2="182.3" stroke="#f6f903"/><line x1="739.6" y1="197.8" x2="725.6" y2="191.7" stroke="#f6f903"/><polygon points="625.4,198.3 661.6,188.9 647.7,182.8 611.4,192.2" fill="#fff" stroke="none"/><line x1="625.4" y1="198.3" x2="661.6" y2="188.9" stroke="#f6f903"/><line x1="661.6" y1="188.9" x2="647.7" y2="182.8" stroke="#f6f903"/><line x1="611.4" y1="192.2" x2="647.7" y2="182.8" stroke="#f6f903"/><line x1="625.4" y1="198.3" x2="611.4" y2="192.2" stroke="#f6f903"/><polygon points="511.1,198.8 547.4,189.4 533.4,183.3 497.2,192.7" fill="#fff" stroke="none"/><line x1="511.1" y1="198.8" x2="547.4" y2="189.4" stroke="#f6f903"/><line x1="547.4" y1="189.4" x2="533.4" y2="183.3" stroke="#f6f903"/><line x1="497.2" y1="192.7" x2="533.4" y2="183.3" stroke="#f6f903"/><line x1="511.1" y1="198.8" x2="497.2" y2="192.7" stroke="#f6f903"/><polygon points="396.9,199.2 433.1,189.8 419.2,183.7 383,193.1" fill="#fff" stroke="none"/><line x1="396.9" y1="199.2" x2="433.1" y2="189.8" stroke="#f6f903"/><line x1="433.1" y1="189.8" x2="419.2" y2="183.7" stroke="#f6f903"/><line x1="383" y1="193.1" x2="419.2" y2="183.7" stroke="#f6f903"/><line x1="396.9" y1="199.2" x2="383" y2="193.1" stroke="#f6f903"/><polygon points="282.7,228.3 318.9,199.9 305,209.5 268.8,234.6" fill="#fff" stroke="none"/><line x1="282.7" y1="228.3" x2="318.9" y2="199.9" stroke="#fda41e"/><line x1="318.9" y1="199.9" x2="305" y2="209.5" stroke="#efd80a"/><line x1="268.8" y1="234.6" x2="305" y2="209.5" stroke="#d39e2f"/><line x1="282.7" y1="228.3" x2="268.8" y2="234.6" stroke="#fda41e"/><polygon points="168.5,379.6 204.7,370.2 190.8,364.1 154.5,373.5" fill="#fff" stroke="none"/><line x1="168.5" y1="379.6" x2="204.7" y2="370.2" stroke="#150f70"/><line x1="204.7" y1="370.2" x2="190.8" y2="364.1" stroke="#150f70"/><line x1="154.5" y1="373.5" x2="190.8" y2="364.1" stroke="#150f70"/><line x1="168.5" y1="379.6" x2="154.5" y2="373.5" stroke="#150f70"/><polygon points="689.4,201.1 725.6,191.7 711.7,185.6 675.5,195" fill="#fff" stroke="none"/><line x1="689.4" y1="201.1" x2="725.6" y2="191.7" stroke="#f6f903"/><line x1="725.6" y1="191.7" x2="711.7" y2="185.6" stroke="#f6f903"/><line x1="675.5" y1="195" x2="711.7" y2="185.6" stroke="#f6f903"/><line x1="689.4" y1="201.1" x2="675.5" y2="195" stroke="#f6f903"/><polygon points="575.2,201.6 611.4,192.2 597.5,186.1 561.3,195.5" fill="#fff" stroke="none"/><line x1="575.2" y1="201.6" x2="611.4" y2="192.2" stroke="#f6f903"/><line x1="611.4" y1="192.2" x2="597.5" y2="186.1" stroke="#f6f903"/><line x1="561.3" y1="195.5" x2="597.5" y2="186.1" stroke="#f6f903"/><line x1="575.2" y1="201.6" x2="561.3" y2="195.5" stroke="#f6f903"/><polygon points="461,202 497.2,192.7 483.3,186.6 447.1,195.9" fill="#fff" stroke="none"/><line x1="461" y1="202" x2="497.2" y2="192.7" stroke="#f6f903"/><line x1="497.2" y1="192.7" x2="483.3" y2="186.6" stroke="#f6f903"/><line x1="447.1" y1="195.9" x2="483.3" y2="186.6" stroke="#f6f903"/><line x1="461" y1="202" x2="447.1" y2="195.9" stroke="#f6f903"/><polygon points="346.8,202.5 383,193.1 369.1,187 332.8,196.4" fill="#fff" stroke="none"/><line x1="346.8" y1="202.5" x2="383" y2="193.1" stroke="#f6f903"/><line x1="383" y1="193.1" x2="369.1" y2="187" stroke="#f6f903"/><line x1="332.8" y1="196.4" x2="369.1" y2="187" stroke="#f6f903"/><line x1="346.8" y1="202.5" x2="332.8" y2="196.4" stroke="#f6f903"/><polygon points="232.5,346.1 268.8,234.6 254.8,254.3 218.6,368.6" fill="#fff" stroke="none"/><line x1="232.5" y1="346.1" x2="268.8" y2="234.6" stroke="#055dd3"/><line x1="268.8" y1="234.6" x2="254.8" y2="254.3" stroke="#d39e2f"/><line x1="218.6" y1="368.6" x2="254.8" y2="254.3" stroke="#22228b"/><line x1="232.5" y1="346.1" x2="218.6" y2="368.6" stroke="#055dd3"/><polygon points="118.3,382.9 154.5,373.5 140.6,367.4 104.4,376.8" fill="#fff" stroke="none"/><line x1="118.3" y1="382.9" x2="154.5" y2="373.5" stroke="#150f70"/><line x1="154.5" y1="373.5" x2="140.6" y2="367.4" stroke="#150f70"/><line x1="104.4" y1="376.8" x2="140.6" y2="367.4" stroke="#150f70"/><line x1="118.3" y1="382.9" x2="104.4" y2="376.8" stroke="#150f70"/><polygon points="753.5,224.4 789.7,194.5 775.8,188.4 739.6,197.8" fill="#fff" stroke="none"/><line x1="753.5" y1="224.4" x2="789.7" y2="194.5" stroke="#fab913"/><line x1="789.7" y1="194.5" x2="775.8" y2="188.4" stroke="#f6f903"/><line x1="739.6" y1="197.8" x2="775.8" y2="188.4" stroke="#f6f903"/><line x1="753.5" y1="224.4" x2="739.6" y2="197.8" stroke="#fab913"/><polygon points="639.3,204.4 675.5,195 661.6,188.9 625.4,198.3" fill="#fff" stroke="none"/><line x1="639.3" y1="204.4" x2="675.5" y2="195" stroke="#f6f903"/><line x1="675.5" y1="195" x2="661.6" y2="188.9" stroke="#f6f903"/><line x1="625.4" y1="198.3" x2="661.6" y2="188.9" stroke="#f6f903"/><line x1="639.3" y1="204.4" x2="625.4" y2="198.3" stroke="#f6f903"/><polygon points="525.1,204.9 561.3,195.5 547.4,189.4 511.1,198.8" fill="#fff" stroke="none"/><line x1="525.1" y1="204.9" x2="561.3" y2="195.5" stroke="#f6f903"/><line x1="561.3" y1="195.5" x2="547.4" y2="189.4" stroke="#f6f903"/><line x1="511.1" y1="198.8" x2="547.4" y2="189.4" stroke="#f6f903"/><line x1="525.1" y1="204.9" x2="511.1" y2="198.8" stroke="#f6f903"/><polygon points="410.8,205.3 447.1,195.9 433.1,189.8 396.9,199.2" fill="#fff" stroke="none"/><line x1="410.8" y1="205.3" x2="447.1" y2="195.9" stroke="#f6f903"/><line x1="447.1" y1="195.9" x2="433.1" y2="189.8" stroke="#f6f903"/><line x1="396.9" y1="199.2" x2="433.1" y2="189.8" stroke="#f6f903"/><line x1="410.8" y1="205.3" x2="396.9" y2="199.2" stroke="#f6f903"/><polygon points="296.6,220.1 332.8,196.4 318.9,199.9 282.7,228.3" fill="#fff" stroke="none"/><line x1="296.6" y1="220.1" x2="332.8" y2="196.4" stroke="#f3c70e"/><line x1="332.8" y1="196.4" x2="318.9" y2="199.9" stroke="#f6f903"/><line x1="282.7" y1="228.3" x2="318.9" y2="199.9" stroke="#fda41e"/><line x1="296.6" y1="220.1" x2="282.7" y2="228.3" stroke="#f3c70e"/><polygon points="182.4,385.7 218.6,368.6 204.7,370.2 168.5,379.6" fill="#fff" stroke="none"/><line x1="182.4" y1="385.7" x2="218.6" y2="368.6" stroke="#150f70"/><line x1="218.6" y1="368.6" x2="204.7" y2="370.2" stroke="#22228b"/><line x1="168.5" y1="379.6" x2="204.7" y2="370.2" stroke="#150f70"/><line x1="182.4" y1="385.7" x2="168.5" y2="379.6" stroke="#150f70"/><polygon points="703.3,226.7 739.6,197.8 725.6,191.7 689.4,201.1" fill="#fff" stroke="none"/><line x1="703.3" y1="226.7" x2="739.6" y2="197.8" stroke="#f7c011"/><line x1="739.6" y1="197.8" x2="725.6" y2="191.7" stroke="#f6f903"/><line x1="689.4" y1="201.1" x2="725.6" y2="191.7" stroke="#f6f903"/><line x1="703.3" y1="226.7" x2="689.4" y2="201.1" stroke="#f7c011"/><polygon points="589.1,207.7 625.4,198.3 611.4,192.2 575.2,201.6" fill="#fff" stroke="none"/><line x1="589.1" y1="207.7" x2="625.4" y2="198.3" stroke="#f6f903"/><line x1="625.4" y1="198.3" x2="611.4" y2="192.2" stroke="#f6f903"/><line x1="575.2" y1="201.6" x2="611.4" y2="192.2" stroke="#f6f903"/><line x1="589.1" y1="207.7" x2="575.2" y2="201.6" stroke="#f6f903"/><polygon points="474.9,208.1 511.1,198.8 497.2,192.7 461,202" fill="#fff" stroke="none"/><line x1="474.9" y1="208.1" x2="511.1" y2="198.8" stroke="#f6f903"/><line x1="511.1" y1="198.8" x2="497.2" y2="192.7" stroke="#f6f903"/><line x1="461" y1="202" x2="497.2" y2="192.7" stroke="#f6f903"/><line x1="474.9" y1="208.1" x2="461" y2="202" stroke="#f6f903"/><polygon points="360.7,208.6 396.9,199.2 383,193.1 346.8,202.5" fill="#fff" stroke="none"/><line x1="360.7" y1="208.6" x2="396.9" y2="199.2" stroke="#f6f903"/><line x1="396.9" y1="199.2" x2="383" y2="193.1" stroke="#f6f903"/><line x1="346.8" y1="202.5" x2="383" y2="193.1" stroke="#f6f903"/><line x1="360.7" y1="208.6" x2="346.8" y2="202.5" stroke="#f6f903"/><polygon points="246.5,254.4 282.7,228.3 268.8,234.6 232.5,346.1" fill="#fff" stroke="none"/><line x1="246.5" y1="254.4" x2="282.7" y2="228.3" stroke="#bda035"/><line x1="282.7" y1="228.3" x2="268.8" y2="234.6" stroke="#fda41e"/><line x1="232.5" y1="346.1" x2="268.8" y2="234.6" stroke="#055dd3"/><line x1="246.5" y1="254.4" x2="232.5" y2="346.1" stroke="#bda035"/><polygon points="132.2,389 168.5,379.6 154.5,373.5 118.3,382.9" fill="#fff" stroke="none"/><line x1="132.2" y1="389" x2="168.5" y2="379.6" stroke="#150f70"/><line x1="168.5" y1="379.6" x2="154.5" y2="373.5" stroke="#150f70"/><line x1="118.3" y1="382.9" x2="154.5" y2="373.5" stroke="#150f70"/><line x1="132.2" y1="389" x2="118.3" y2="382.9" stroke="#150f70"/><polygon points="767.4,389.3 803.6,221.6 789.7,194.5 753.5,224.4" fill="#fff" stroke="none"/><line x1="767.4" y1="389.3" x2="803.6" y2="221.6" stroke="#150f70"/><line x1="803.6" y1="221.6" x2="789.7" y2="194.5" stroke="#fab913"/><line x1="753.5" y1="224.4" x2="789.7" y2="194.5" stroke="#fab913"/><line x1="767.4" y1="389.3" x2="753.5" y2="224.4" stroke="#150f70"/><polygon points="653.2,229.6 689.4,201.1 675.5,195 639.3,204.4" fill="#fff" stroke="none"/><line x1="653.2" y1="229.6" x2="689.4" y2="201.1" stroke="#f7c011"/><line x1="689.4" y1="201.1" x2="675.5" y2="195" stroke="#f6f903"/><line x1="639.3" y1="204.4" x2="675.5" y2="195" stroke="#f6f903"/><line x1="653.2" y1="229.6" x2="639.3" y2="204.4" stroke="#f7c011"/><polygon points="539,211 575.2,201.6 561.3,195.5 525.1,204.9" fill="#fff" stroke="none"/><line x1="539" y1="211" x2="575.2" y2="201.6" stroke="#f6f903"/><line x1="575.2" y1="201.6" x2="561.3" y2="195.5" stroke="#f6f903"/><line x1="525.1" y1="204.9" x2="561.3" y2="195.5" stroke="#f6f903"/><line x1="539" y1="211" x2="525.1" y2="204.9" stroke="#f6f903"/><polygon points="424.8,211.4 461,202 447.1,195.9 410.8,205.3" fill="#fff" stroke="none"/><line x1="424.8" y1="211.4" x2="461" y2="202" stroke="#f6f903"/><line x1="461" y1="202" x2="447.1" y2="195.9" stroke="#f6f903"/><line x1="410.8" y1="205.3" x2="447.1" y2="195.9" stroke="#f6f903"/><line x1="424.8" y1="211.4" x2="410.8" y2="205.3" stroke="#f6f903"/><polygon points="310.5,211.9 346.8,202.5 332.8,196.4 296.6,220.1" fill="#fff" stroke="none"/><line x1="310.5" y1="211.9" x2="346.8" y2="202.5" stroke="#f6f903"/><line x1="346.8" y1="202.5" x2="332.8" y2="196.4" stroke="#f6f903"/><line x1="296.6" y1="220.1" x2="332.8" y2="196.4" stroke="#f3c70e"/><line x1="310.5" y1="211.9" x2="296.6" y2="220.1" stroke="#f6f903"/><polygon points="196.3,347.4 232.5,346.1 218.6,368.6 182.4,385.7" fill="#fff" stroke="none"/><line x1="232.5" y1="346.1" x2="218.6" y2="368.6" stroke="#055dd3"/><line x1="182.4" y1="385.7" x2="218.6" y2="368.6" stroke="#150f70"/><polygon points="717.3,392.6 753.5,224.4 739.6,197.8 703.3,226.7" fill="#fff" stroke="none"/><line x1="717.3" y1="392.6" x2="753.5" y2="224.4" stroke="#150f70"/><line x1="753.5" y1="224.4" x2="739.6" y2="197.8" stroke="#fab913"/><line x1="703.3" y1="226.7" x2="739.6" y2="197.8" stroke="#f7c011"/><line x1="717.3" y1="392.6" x2="703.3" y2="226.7" stroke="#150f70"/><polygon points="603.1,236.7 639.3,204.4 625.4,198.3 589.1,207.7" fill="#fff" stroke="none"/><line x1="603.1" y1="236.7" x2="639.3" y2="204.4" stroke="#fdb216"/><line x1="639.3" y1="204.4" x2="625.4" y2="198.3" stroke="#f6f903"/><line x1="589.1" y1="207.7" x2="625.4" y2="198.3" stroke="#f6f903"/><line x1="603.1" y1="236.7" x2="589.1" y2="207.7" stroke="#fdb216"/><polygon points="488.8,214.2 525.1,204.9 511.1,198.8 474.9,208.1" fill="#fff" stroke="none"/><line x1="488.8" y1="214.2" x2="525.1" y2="204.9" stroke="#f6f903"/><line x1="525.1" y1="204.9" x2="511.1" y2="198.8" stroke="#f6f903"/><line x1="474.9" y1="208.1" x2="511.1" y2="198.8" stroke="#f6f903"/><line x1="488.8" y1="214.2" x2="474.9" y2="208.1" stroke="#f6f903"/><polygon points="374.6,214.7 410.8,205.3 396.9,199.2 360.7,208.6" fill="#fff" stroke="none"/><line x1="374.6" y1="214.7" x2="410.8" y2="205.3" stroke="#f6f903"/><line x1="410.8" y1="205.3" x2="396.9" y2="199.2" stroke="#f6f903"/><line x1="360.7" y1="208.6" x2="396.9" y2="199.2" stroke="#f6f903"/><line x1="374.6" y1="214.7" x2="360.7" y2="208.6" stroke="#f6f903"/><polygon points="260.4,235.7 296.6,220.1 282.7,228.3 246.5,254.4" fill="#fff" stroke="none"/><line x1="260.4" y1="235.7" x2="296.6" y2="220.1" stroke="#fab913"/><line x1="296.6" y1="220.1" x2="282.7" y2="228.3" stroke="#f3c70e"/><line x1="246.5" y1="254.4" x2="282.7" y2="228.3" stroke="#bda035"/><line x1="260.4" y1="235.7" x2="246.5" y2="254.4" stroke="#fab913"/><polygon points="146.2,395.1 182.4,385.7 168.5,379.6 132.2,389" fill="#fff" stroke="none"/><line x1="146.2" y1="395.1" x2="182.4" y2="385.7" stroke="#150f70"/><line x1="182.4" y1="385.7" x2="168.5" y2="379.6" stroke="#150f70"/><line x1="132.2" y1="389" x2="168.5" y2="379.6" stroke="#150f70"/><line x1="146.2" y1="395.1" x2="132.2" y2="389" stroke="#150f70"/><polygon points="781.3,395.4 817.6,386 803.6,221.6 767.4,389.3" fill="#fff" stroke="none"/><line x1="781.3" y1="395.4" x2="817.6" y2="386" stroke="#150f70"/><line x1="817.6" y1="386" x2="803.6" y2="221.6" stroke="#150f70"/><line x1="767.4" y1="389.3" x2="803.6" y2="221.6" stroke="#150f70"/><line x1="781.3" y1="395.4" x2="767.4" y2="389.3" stroke="#150f70"/><polygon points="667.1,395.9 703.3,226.7 689.4,201.1 653.2,229.6" fill="#fff" stroke="none"/><line x1="667.1" y1="395.9" x2="703.3" y2="226.7" stroke="#150f70"/><line x1="703.3" y1="226.7" x2="689.4" y2="201.1" stroke="#f7c011"/><line x1="653.2" y1="229.6" x2="689.4" y2="201.1" stroke="#f7c011"/><line x1="667.1" y1="395.9" x2="653.2" y2="229.6" stroke="#150f70"/><polygon points="552.9,243.3 589.1,207.7 575.2,201.6 539,211" fill="#fff" stroke="none"/><line x1="552.9" y1="243.3" x2="589.1" y2="207.7" stroke="#ffab1a"/><line x1="589.1" y1="207.7" x2="575.2" y2="201.6" stroke="#f6f903"/><line x1="539" y1="211" x2="575.2" y2="201.6" stroke="#f6f903"/><line x1="552.9" y1="243.3" x2="539" y2="211" stroke="#ffab1a"/><polygon points="438.7,217.5 474.9,208.1 461,202 424.8,211.4" fill="#fff" stroke="none"/><line x1="438.7" y1="217.5" x2="474.9" y2="208.1" stroke="#f6f903"/><line x1="474.9" y1="208.1" x2="461" y2="202" stroke="#f6f903"/><line x1="424.8" y1="211.4" x2="461" y2="202" stroke="#f6f903"/><line x1="438.7" y1="217.5" x2="424.8" y2="211.4" stroke="#f6f903"/><polygon points="324.5,218 360.7,208.6 346.8,202.5 310.5,211.9" fill="#fff" stroke="none"/><line x1="324.5" y1="218" x2="360.7" y2="208.6" stroke="#f6f903"/><line x1="360.7" y1="208.6" x2="346.8" y2="202.5" stroke="#f6f903"/><line x1="310.5" y1="211.9" x2="346.8" y2="202.5" stroke="#f6f903"/><line x1="324.5" y1="218" x2="310.5" y2="211.9" stroke="#f6f903"/><polygon points="210.2,333 246.5,254.4 232.5,346.1 196.3,347.4" fill="#fff" stroke="none"/><line x1="210.2" y1="333" x2="246.5" y2="254.4" stroke="#028fbc"/><line x1="246.5" y1="254.4" x2="232.5" y2="346.1" stroke="#bda035"/><polygon points="731.2,398.7 767.4,389.3 753.5,224.4 717.3,392.6" fill="#fff" stroke="none"/><line x1="731.2" y1="398.7" x2="767.4" y2="389.3" stroke="#150f70"/><line x1="767.4" y1="389.3" x2="753.5" y2="224.4" stroke="#150f70"/><line x1="717.3" y1="392.6" x2="753.5" y2="224.4" stroke="#150f70"/><line x1="731.2" y1="398.7" x2="717.3" y2="392.6" stroke="#150f70"/><polygon points="617,399.2 653.2,229.6 639.3,204.4 603.1,236.7" fill="#fff" stroke="none"/><line x1="617" y1="399.2" x2="653.2" y2="229.6" stroke="#150f70"/><line x1="653.2" y1="229.6" x2="639.3" y2="204.4" stroke="#f7c011"/><line x1="603.1" y1="236.7" x2="639.3" y2="204.4" stroke="#fdb216"/><line x1="617" y1="399.2" x2="603.1" y2="236.7" stroke="#150f70"/><polygon points="502.8,260.4 539,211 525.1,204.9 488.8,214.2" fill="#fff" stroke="none"/><line x1="502.8" y1="260.4" x2="539" y2="211" stroke="#d39e2f"/><line x1="539" y1="211" x2="525.1" y2="204.9" stroke="#f6f903"/><line x1="488.8" y1="214.2" x2="525.1" y2="204.9" stroke="#f6f903"/><line x1="502.8" y1="260.4" x2="488.8" y2="214.2" stroke="#d39e2f"/><polygon points="388.5,220.8 424.8,211.4 410.8,205.3 374.6,214.7" fill="#fff" stroke="none"/><line x1="388.5" y1="220.8" x2="424.8" y2="211.4" stroke="#f6f903"/><line x1="424.8" y1="211.4" x2="410.8" y2="205.3" stroke="#f6f903"/><line x1="374.6" y1="214.7" x2="410.8" y2="205.3" stroke="#f6f903"/><line x1="388.5" y1="220.8" x2="374.6" y2="214.7" stroke="#f6f903"/><polygon points="274.3,230.9 310.5,211.9 296.6,220.1 260.4,235.7" fill="#fff" stroke="none"/><line x1="274.3" y1="230.9" x2="310.5" y2="211.9" stroke="#efd80a"/><line x1="310.5" y1="211.9" x2="296.6" y2="220.1" stroke="#f6f903"/><line x1="260.4" y1="235.7" x2="296.6" y2="220.1" stroke="#fab913"/><line x1="274.3" y1="230.9" x2="260.4" y2="235.7" stroke="#efd80a"/><polygon points="160.1,401.2 196.3,347.4 182.4,385.7 146.2,395.1" fill="#fff" stroke="none"/><line x1="146.2" y1="395.1" x2="182.4" y2="385.7" stroke="#150f70"/><line x1="160.1" y1="401.2" x2="146.2" y2="395.1" stroke="#150f70"/><polygon points="795.3,401.5 831.5,392.1 817.6,386 781.3,395.4" fill="#fff" stroke="none"/><line x1="795.3" y1="401.5" x2="831.5" y2="392.1" stroke="#150f70"/><line x1="831.5" y1="392.1" x2="817.6" y2="386" stroke="#150f70"/><line x1="781.3" y1="395.4" x2="817.6" y2="386" stroke="#150f70"/><line x1="795.3" y1="401.5" x2="781.3" y2="395.4" stroke="#150f70"/><polygon points="681,402 717.3,392.6 703.3,226.7 667.1,395.9" fill="#fff" stroke="none"/><line x1="681" y1="402" x2="717.3" y2="392.6" stroke="#150f70"/><line x1="717.3" y1="392.6" x2="703.3" y2="226.7" stroke="#150f70"/><line x1="667.1" y1="395.9" x2="703.3" y2="226.7" stroke="#150f70"/><line x1="681" y1="402" x2="667.1" y2="395.9" stroke="#150f70"/><polygon points="566.8,402.5 603.1,236.7 589.1,207.7 552.9,243.3" fill="#fff" stroke="none"/><line x1="566.8" y1="402.5" x2="603.1" y2="236.7" stroke="#150f70"/><line x1="603.1" y1="236.7" x2="589.1" y2="207.7" stroke="#fdb216"/><line x1="552.9" y1="243.3" x2="589.1" y2="207.7" stroke="#ffab1a"/><line x1="566.8" y1="402.5" x2="552.9" y2="243.3" stroke="#150f70"/><polygon points="452.6,269.4 488.8,214.2 474.9,208.1 438.7,217.5" fill="#fff" stroke="none"/><line x1="452.6" y1="269.4" x2="488.8" y2="214.2" stroke="#bda035"/><line x1="488.8" y1="214.2" x2="474.9" y2="208.1" stroke="#f6f903"/><line x1="438.7" y1="217.5" x2="474.9" y2="208.1" stroke="#f6f903"/><line x1="452.6" y1="269.4" x2="438.7" y2="217.5" stroke="#bda035"/><polygon points="338.4,224.1 374.6,214.7 360.7,208.6 324.5,218" fill="#fff" stroke="none"/><line x1="338.4" y1="224.1" x2="374.6" y2="214.7" stroke="#f6f903"/><line x1="374.6" y1="214.7" x2="360.7" y2="208.6" stroke="#f6f903"/><line x1="324.5" y1="218" x2="360.7" y2="208.6" stroke="#f6f903"/><line x1="338.4" y1="224.1" x2="324.5" y2="218" stroke="#f6f903"/><polygon points="224.2,317.6 260.4,235.7 246.5,254.4 210.2,333" fill="#fff" stroke="none"/><line x1="224.2" y1="317.6" x2="260.4" y2="235.7" stroke="#15a396"/><line x1="260.4" y1="235.7" x2="246.5" y2="254.4" stroke="#fab913"/><line x1="210.2" y1="333" x2="246.5" y2="254.4" stroke="#028fbc"/><line x1="224.2" y1="317.6" x2="210.2" y2="333" stroke="#15a396"/><polygon points="745.1,404.8 781.3,395.4 767.4,389.3 731.2,398.7" fill="#fff" stroke="none"/><line x1="745.1" y1="404.8" x2="781.3" y2="395.4" stroke="#150f70"/><line x1="781.3" y1="395.4" x2="767.4" y2="389.3" stroke="#150f70"/><line x1="731.2" y1="398.7" x2="767.4" y2="389.3" stroke="#150f70"/><line x1="745.1" y1="404.8" x2="731.2" y2="398.7" stroke="#150f70"/><polygon points="630.9,405.3 667.1,395.9 653.2,229.6 617,399.2" fill="#fff" stroke="none"/><line x1="630.9" y1="405.3" x2="667.1" y2="395.9" stroke="#150f70"/><line x1="667.1" y1="395.9" x2="653.2" y2="229.6" stroke="#150f70"/><line x1="617" y1="399.2" x2="653.2" y2="229.6" stroke="#150f70"/><line x1="630.9" y1="405.3" x2="617" y2="399.2" stroke="#150f70"/><polygon points="516.7,405.8 552.9,243.3 539,211 502.8,260.4" fill="#fff" stroke="none"/><line x1="516.7" y1="405.8" x2="552.9" y2="243.3" stroke="#150f70"/><line x1="552.9" y1="243.3" x2="539" y2="211" stroke="#ffab1a"/><line x1="502.8" y1="260.4" x2="539" y2="211" stroke="#d39e2f"/><line x1="516.7" y1="405.8" x2="502.8" y2="260.4" stroke="#150f70"/><polygon points="402.5,293.7 438.7,217.5 424.8,211.4 388.5,220.8" fill="#fff" stroke="none"/><line x1="402.5" y1="293.7" x2="438.7" y2="217.5" stroke="#6ea54d"/><line x1="438.7" y1="217.5" x2="424.8" y2="211.4" stroke="#f6f903"/><line x1="388.5" y1="220.8" x2="424.8" y2="211.4" stroke="#f6f903"/><line x1="402.5" y1="293.7" x2="388.5" y2="220.8" stroke="#6ea54d"/><polygon points="288.2,254.1 324.5,218 310.5,211.9 274.3,230.9" fill="#fff" stroke="none"/><line x1="288.2" y1="254.1" x2="324.5" y2="218" stroke="#ffab1a"/><line x1="324.5" y1="218" x2="310.5" y2="211.9" stroke="#f6f903"/><line x1="274.3" y1="230.9" x2="310.5" y2="211.9" stroke="#efd80a"/><line x1="288.2" y1="254.1" x2="274.3" y2="230.9" stroke="#ffab1a"/><polygon points="174,407.3 210.2,333 196.3,347.4 160.1,401.2" fill="#fff" stroke="none"/><line x1="174" y1="407.3" x2="210.2" y2="333" stroke="#150f70"/><line x1="174" y1="407.3" x2="160.1" y2="401.2" stroke="#150f70"/><polygon points="809.2,407.6 845.4,398.2 831.5,392.1 795.3,401.5" fill="#fff" stroke="none"/><line x1="809.2" y1="407.6" x2="845.4" y2="398.2" stroke="#150f70"/><line x1="845.4" y1="398.2" x2="831.5" y2="392.1" stroke="#150f70"/><line x1="795.3" y1="401.5" x2="831.5" y2="392.1" stroke="#150f70"/><line x1="809.2" y1="407.6" x2="795.3" y2="401.5" stroke="#150f70"/><polygon points="695,408.1 731.2,398.7 717.3,392.6 681,402" fill="#fff" stroke="none"/><line x1="695" y1="408.1" x2="731.2" y2="398.7" stroke="#150f70"/><line x1="731.2" y1="398.7" x2="717.3" y2="392.6" stroke="#150f70"/><line x1="681" y1="402" x2="717.3" y2="392.6" stroke="#150f70"/><line x1="695" y1="408.1" x2="681" y2="402" stroke="#150f70"/><polygon points="580.8,408.6 617,399.2 603.1,236.7 566.8,402.5" fill="#fff" stroke="none"/><line x1="580.8" y1="408.6" x2="617" y2="399.2" stroke="#150f70"/><line x1="617" y1="399.2" x2="603.1" y2="236.7" stroke="#150f70"/><line x1="566.8" y1="402.5" x2="603.1" y2="236.7" stroke="#150f70"/><line x1="580.8" y1="408.6" x2="566.8" y2="402.5" stroke="#150f70"/><polygon points="466.5,409.1 502.8,260.4 488.8,214.2 452.6,269.4" fill="#fff" stroke="none"/><line x1="466.5" y1="409.1" x2="502.8" y2="260.4" stroke="#150f70"/><line x1="502.8" y1="260.4" x2="488.8" y2="214.2" stroke="#d39e2f"/><line x1="452.6" y1="269.4" x2="488.8" y2="214.2" stroke="#bda035"/><line x1="466.5" y1="409.1" x2="452.6" y2="269.4" stroke="#150f70"/><polygon points="352.3,332.3 388.5,220.8 374.6,214.7 338.4,224.1" fill="#fff" stroke="none"/><line x1="352.3" y1="332.3" x2="388.5" y2="220.8" stroke="#069ca8"/><line x1="388.5" y1="220.8" x2="374.6" y2="214.7" stroke="#f6f903"/><line x1="338.4" y1="224.1" x2="374.6" y2="214.7" stroke="#f6f903"/><line x1="352.3" y1="332.3" x2="338.4" y2="224.1" stroke="#069ca8"/><polygon points="238.1,367.1 274.3,230.9 260.4,235.7 224.2,317.6" fill="#fff" stroke="none"/><line x1="238.1" y1="367.1" x2="274.3" y2="230.9" stroke="#0969cb"/><line x1="274.3" y1="230.9" x2="260.4" y2="235.7" stroke="#efd80a"/><line x1="224.2" y1="317.6" x2="260.4" y2="235.7" stroke="#15a396"/><line x1="238.1" y1="367.1" x2="224.2" y2="317.6" stroke="#0969cb"/><polygon points="759,410.9 795.3,401.5 781.3,395.4 745.1,404.8" fill="#fff" stroke="none"/><line x1="759" y1="410.9" x2="795.3" y2="401.5" stroke="#150f70"/><line x1="795.3" y1="401.5" x2="781.3" y2="395.4" stroke="#150f70"/><line x1="745.1" y1="404.8" x2="781.3" y2="395.4" stroke="#150f70"/><line x1="759" y1="410.9" x2="745.1" y2="404.8" stroke="#150f70"/><polygon points="644.8,411.4 681,402 667.1,395.9 630.9,405.3" fill="#fff" stroke="none"/><line x1="644.8" y1="411.4" x2="681" y2="402" stroke="#150f70"/><line x1="681" y1="402" x2="667.1" y2="395.9" stroke="#150f70"/><line x1="630.9" y1="405.3" x2="667.1" y2="395.9" stroke="#150f70"/><line x1="644.8" y1="411.4" x2="630.9" y2="405.3" stroke="#150f70"/><polygon points="530.6,411.9 566.8,402.5 552.9,243.3 516.7,405.8" fill="#fff" stroke="none"/><line x1="530.6" y1="411.9" x2="566.8" y2="402.5" stroke="#150f70"/><line x1="566.8" y1="402.5" x2="552.9" y2="243.3" stroke="#150f70"/><line x1="516.7" y1="405.8" x2="552.9" y2="243.3" stroke="#150f70"/><line x1="530.6" y1="411.9" x2="516.7" y2="405.8" stroke="#150f70"/><polygon points="416.4,412.4 452.6,269.4 438.7,217.5 402.5,293.7" fill="#fff" stroke="none"/><line x1="416.4" y1="412.4" x2="452.6" y2="269.4" stroke="#150f70"/><line x1="452.6" y1="269.4" x2="438.7" y2="217.5" stroke="#bda035"/><line x1="402.5" y1="293.7" x2="438.7" y2="217.5" stroke="#6ea54d"/><line x1="416.4" y1="412.4" x2="402.5" y2="293.7" stroke="#150f70"/><polygon points="302.2,390.4 338.4,224.1 324.5,218 288.2,254.1" fill="#fff" stroke="none"/><line x1="302.2" y1="390.4" x2="338.4" y2="224.1" stroke="#0644d4"/><line x1="338.4" y1="224.1" x2="324.5" y2="218" stroke="#f6f903"/><line x1="288.2" y1="254.1" x2="324.5" y2="218" stroke="#ffab1a"/><line x1="302.2" y1="390.4" x2="288.2" y2="254.1" stroke="#0644d4"/><polygon points="187.9,413.4 224.2,317.6 210.2,333 174,407.3" fill="#fff" stroke="none"/><line x1="187.9" y1="413.4" x2="224.2" y2="317.6" stroke="#150f70"/><line x1="224.2" y1="317.6" x2="210.2" y2="333" stroke="#15a396"/><line x1="174" y1="407.3" x2="210.2" y2="333" stroke="#150f70"/><line x1="187.9" y1="413.4" x2="174" y2="407.3" stroke="#150f70"/><polygon points="823.1,413.7 859.3,404.3 845.4,398.2 809.2,407.6" fill="#fff" stroke="none"/><line x1="823.1" y1="413.7" x2="859.3" y2="404.3" stroke="#150f70"/><line x1="859.3" y1="404.3" x2="845.4" y2="398.2" stroke="#150f70"/><line x1="809.2" y1="407.6" x2="845.4" y2="398.2" stroke="#150f70"/><line x1="823.1" y1="413.7" x2="809.2" y2="407.6" stroke="#150f70"/><polygon points="708.9,414.2 745.1,404.8 731.2,398.7 695,408.1" fill="#fff" stroke="none"/><line x1="708.9" y1="414.2" x2="745.1" y2="404.8" stroke="#150f70"/><line x1="745.1" y1="404.8" x2="731.2" y2="398.7" stroke="#150f70"/><line x1="695" y1="408.1" x2="731.2" y2="398.7" stroke="#150f70"/><line x1="708.9" y1="414.2" x2="695" y2="408.1" stroke="#150f70"/><polygon points="594.7,414.7 630.9,405.3 617,399.2 580.8,408.6" fill="#fff" stroke="none"/><line x1="594.7" y1="414.7" x2="630.9" y2="405.3" stroke="#150f70"/><line x1="630.9" y1="405.3" x2="617" y2="399.2" stroke="#150f70"/><line x1="580.8" y1="408.6" x2="617" y2="399.2" stroke="#150f70"/><line x1="594.7" y1="414.7" x2="580.8" y2="408.6" stroke="#150f70"/><polygon points="480.5,415.2 516.7,405.8 502.8,260.4 466.5,409.1" fill="#fff" stroke="none"/><line x1="480.5" y1="415.2" x2="516.7" y2="405.8" stroke="#150f70"/><line x1="516.7" y1="405.8" x2="502.8" y2="260.4" stroke="#150f70"/><line x1="466.5" y1="409.1" x2="502.8" y2="260.4" stroke="#150f70"/><line x1="480.5" y1="415.2" x2="466.5" y2="409.1" stroke="#150f70"/><polygon points="366.2,415.7 402.5,293.7 388.5,220.8 352.3,332.3" fill="#fff" stroke="none"/><line x1="366.2" y1="415.7" x2="402.5" y2="293.7" stroke="#150f70"/><line x1="402.5" y1="293.7" x2="388.5" y2="220.8" stroke="#6ea54d"/><line x1="352.3" y1="332.3" x2="388.5" y2="220.8" stroke="#069ca8"/><line x1="366.2" y1="415.7" x2="352.3" y2="332.3" stroke="#150f70"/><polygon points="252,413.3 288.2,254.1 274.3,230.9 238.1,367.1" fill="#fff" stroke="none"/><line x1="252" y1="413.3" x2="288.2" y2="254.1" stroke="#150f70"/><line x1="288.2" y1="254.1" x2="274.3" y2="230.9" stroke="#ffab1a"/><line x1="238.1" y1="367.1" x2="274.3" y2="230.9" stroke="#0969cb"/><line x1="252" y1="413.3" x2="238.1" y2="367.1" stroke="#150f70"/><polygon points="773,417 809.2,407.6 795.3,401.5 759,410.9" fill="#fff" stroke="none"/><line x1="773" y1="417" x2="809.2" y2="407.6" stroke="#150f70"/><line x1="809.2" y1="407.6" x2="795.3" y2="401.5" stroke="#150f70"/><line x1="759" y1="410.9" x2="795.3" y2="401.5" stroke="#150f70"/><line x1="773" y1="417" x2="759" y2="410.9" stroke="#150f70"/><polygon points="658.7,417.5 695,408.1 681,402 644.8,411.4" fill="#fff" stroke="none"/><line x1="658.7" y1="417.5" x2="695" y2="408.1" stroke="#150f70"/><line x1="695" y1="408.1" x2="681" y2="402" stroke="#150f70"/><line x1="644.8" y1="411.4" x2="681" y2="402" stroke="#150f70"/><line x1="658.7" y1="417.5" x2="644.8" y2="411.4" stroke="#150f70"/><polygon points="544.5,418 580.8,408.6 566.8,402.5 530.6,411.9" fill="#fff" stroke="none"/><line x1="544.5" y1="418" x2="580.8" y2="408.6" stroke="#150f70"/><line x1="580.8" y1="408.6" x2="566.8" y2="402.5" stroke="#150f70"/><line x1="530.6" y1="411.9" x2="566.8" y2="402.5" stroke="#150f70"/><line x1="544.5" y1="418" x2="530.6" y2="411.9" stroke="#150f70"/><polygon points="430.3,418.5 466.5,409.1 452.6,269.4 416.4,412.4" fill="#fff" stroke="none"/><line x1="430.3" y1="418.5" x2="466.5" y2="409.1" stroke="#150f70"/><line x1="466.5" y1="409.1" x2="452.6" y2="269.4" stroke="#150f70"/><line x1="416.4" y1="412.4" x2="452.6" y2="269.4" stroke="#150f70"/><line x1="430.3" y1="418.5" x2="416.4" y2="412.4" stroke="#150f70"/><polygon points="316.1,419 352.3,332.3 338.4,224.1 302.2,390.4" fill="#fff" stroke="none"/><line x1="316.1" y1="419" x2="352.3" y2="332.3" stroke="#150f70"/><line x1="352.3" y1="332.3" x2="338.4" y2="224.1" stroke="#069ca8"/><line x1="302.2" y1="390.4" x2="338.4" y2="224.1" stroke="#0644d4"/><line x1="316.1" y1="419" x2="302.2" y2="390.4" stroke="#150f70"/><polygon points="201.9,419.5 238.1,367.1 224.2,317.6 187.9,413.4" fill="#fff" stroke="none"/><line x1="201.9" y1="419.5" x2="238.1" y2="367.1" stroke="#150f70"/><line x1="238.1" y1="367.1" x2="224.2" y2="317.6" stroke="#0969cb"/><line x1="187.9" y1="413.4" x2="224.2" y2="317.6" stroke="#150f70"/><line x1="201.9" y1="419.5" x2="187.9" y2="413.4" stroke="#150f70"/><polygon points="837,419.8 873.3,410.4 859.3,404.3 823.1,413.7" fill="#fff" stroke="none"/><line x1="837" y1="419.8" x2="873.3" y2="410.4" stroke="#150f70"/><line x1="873.3" y1="410.4" x2="859.3" y2="404.3" stroke="#150f70"/><line x1="823.1" y1="413.7" x2="859.3" y2="404.3" stroke="#150f70"/><line x1="837" y1="419.8" x2="823.1" y2="413.7" stroke="#150f70"/><polygon points="722.8,420.3 759,410.9 745.1,404.8 708.9,414.2" fill="#fff" stroke="none"/><line x1="722.8" y1="420.3" x2="759" y2="410.9" stroke="#150f70"/><line x1="759" y1="410.9" x2="745.1" y2="404.8" stroke="#150f70"/><line x1="708.9" y1="414.2" x2="745.1" y2="404.8" stroke="#150f70"/><line x1="722.8" y1="420.3" x2="708.9" y2="414.2" stroke="#150f70"/><polygon points="608.6,420.8 644.8,411.4 630.9,405.3 594.7,414.7" fill="#fff" stroke="none"/><line x1="608.6" y1="420.8" x2="644.8" y2="411.4" stroke="#150f70"/><line x1="644.8" y1="411.4" x2="630.9" y2="405.3" stroke="#150f70"/><line x1="594.7" y1="414.7" x2="630.9" y2="405.3" stroke="#150f70"/><line x1="608.6" y1="420.8" x2="594.7" y2="414.7" stroke="#150f70"/><polygon points="494.4,421.3 530.6,411.9 516.7,405.8 480.5,415.2" fill="#fff" stroke="none"/><line x1="494.4" y1="421.3" x2="530.6" y2="411.9" stroke="#150f70"/><line x1="530.6" y1="411.9" x2="516.7" y2="405.8" stroke="#150f70"/><line x1="480.5" y1="415.2" x2="516.7" y2="405.8" stroke="#150f70"/><line x1="494.4" y1="421.3" x2="480.5" y2="415.2" stroke="#150f70"/><polygon points="380.2,421.8 416.4,412.4 402.5,293.7 366.2,415.7" fill="#fff" stroke="none"/><line x1="380.2" y1="421.8" x2="416.4" y2="412.4" stroke="#150f70"/><line x1="416.4" y1="412.4" x2="402.5" y2="293.7" stroke="#150f70"/><line x1="366.2" y1="415.7" x2="402.5" y2="293.7" stroke="#150f70"/><line x1="380.2" y1="421.8" x2="366.2" y2="415.7" stroke="#150f70"/><polygon points="265.9,422.3 302.2,390.4 288.2,254.1 252,413.3" fill="#fff" stroke="none"/><line x1="265.9" y1="422.3" x2="302.2" y2="390.4" stroke="#150f70"/><line x1="302.2" y1="390.4" x2="288.2" y2="254.1" stroke="#0644d4"/><line x1="252" y1="413.3" x2="288.2" y2="254.1" stroke="#150f70"/><line x1="265.9" y1="422.3" x2="252" y2="413.3" stroke="#150f70"/><polygon points="786.9,423.1 823.1,413.7 809.2,407.6 773,417" fill="#fff" stroke="none"/><line x1="786.9" y1="423.1" x2="823.1" y2="413.7" stroke="#150f70"/><line x1="823.1" y1="413.7" x2="809.2" y2="407.6" stroke="#150f70"/><line x1="773" y1="417" x2="809.2" y2="407.6" stroke="#150f70"/><line x1="786.9" y1="423.1" x2="773" y2="417" stroke="#150f70"/><polygon points="672.7,423.6 708.9,414.2 695,408.1 658.7,417.5" fill="#fff" stroke="none"/><line x1="672.7" y1="423.6" x2="708.9" y2="414.2" stroke="#150f70"/><line x1="708.9" y1="414.2" x2="695" y2="408.1" stroke="#150f70"/><line x1="658.7" y1="417.5" x2="695" y2="408.1" stroke="#150f70"/><line x1="672.7" y1="423.6" x2="658.7" y2="417.5" stroke="#150f70"/><polygon points="558.5,424.1 594.7,414.7 580.8,408.6 544.5,418" fill="#fff" stroke="none"/><line x1="558.5" y1="424.1" x2="594.7" y2="414.7" stroke="#150f70"/><line x1="594.7" y1="414.7" x2="580.8" y2="408.6" stroke="#150f70"/><line x1="544.5" y1="418" x2="580.8" y2="408.6" stroke="#150f70"/><line x1="558.5" y1="424.1" x2="544.5" y2="418" stroke="#150f70"/><polygon points="444.2,424.6 480.5,415.2 466.5,409.1 430.3,418.5" fill="#fff" stroke="none"/><line x1="444.2" y1="424.6" x2="480.5" y2="415.2" stroke="#150f70"/><line x1="480.5" y1="415.2" x2="466.5" y2="409.1" stroke="#150f70"/><line x1="430.3" y1="418.5" x2="466.5" y2="409.1" stroke="#150f70"/><line x1="444.2" y1="424.6" x2="430.3" y2="418.5" stroke="#150f70"/><polygon points="330,425.1 366.2,415.7 352.3,332.3 316.1,419" fill="#fff" stroke="none"/><line x1="330" y1="425.1" x2="366.2" y2="415.7" stroke="#150f70"/><line x1="366.2" y1="415.7" x2="352.3" y2="332.3" stroke="#150f70"/><line x1="316.1" y1="419" x2="352.3" y2="332.3" stroke="#150f70"/><line x1="330" y1="425.1" x2="316.1" y2="419" stroke="#150f70"/><polygon points="215.8,425.6 252,413.3 238.1,367.1 201.9,419.5" fill="#fff" stroke="none"/><line x1="215.8" y1="425.6" x2="252" y2="413.3" stroke="#150f70"/><line x1="252" y1="413.3" x2="238.1" y2="367.1" stroke="#150f70"/><line x1="201.9" y1="419.5" x2="238.1" y2="367.1" stroke="#150f70"/><line x1="215.8" y1="425.6" x2="201.9" y2="419.5" stroke="#150f70"/><polygon points="851,425.9 887.2,416.5 873.3,410.4 837,419.8" fill="#fff" stroke="none"/><line x1="851" y1="425.9" x2="887.2" y2="416.5" stroke="#150f70"/><line x1="887.2" y1="416.5" x2="873.3" y2="410.4" stroke="#150f70"/><line x1="837" y1="419.8" x2="873.3" y2="410.4" stroke="#150f70"/><line x1="851" y1="425.9" x2="837" y2="419.8" stroke="#150f70"/><polygon points="736.7,426.4 773,417 759,410.9 722.8,420.3" fill="#fff" stroke="none"/><line x1="736.7" y1="426.4" x2="773" y2="417" stroke="#150f70"/><line x1="773" y1="417" x2="759" y2="410.9" stroke="#150f70"/><line x1="722.8" y1="420.3" x2="759" y2="410.9" stroke="#150f70"/><line x1="736.7" y1="426.4" x2="722.8" y2="420.3" stroke="#150f70"/><polygon points="622.5,426.9 658.7,417.5 644.8,411.4 608.6,420.8" fill="#fff" stroke="none"/><line x1="622.5" y1="426.9" x2="658.7" y2="417.5" stroke="#150f70"/><line x1="658.7" y1="417.5" x2="644.8" y2="411.4" stroke="#150f70"/><line x1="608.6" y1="420.8" x2="644.8" y2="411.4" stroke="#150f70"/><line x1="622.5" y1="426.9" x2="608.6" y2="420.8" stroke="#150f70"/><polygon points="508.3,427.4 544.5,418 530.6,411.9 494.4,421.3" fill="#fff" stroke="none"/><line x1="508.3" y1="427.4" x2="544.5" y2="418" stroke="#150f70"/><line x1="544.5" y1="418" x2="530.6" y2="411.9" stroke="#150f70"/><line x1="494.4" y1="421.3" x2="530.6" y2="411.9" stroke="#150f70"/><line x1="508.3" y1="427.4" x2="494.4" y2="421.3" stroke="#150f70"/><polygon points="394.1,427.9 430.3,418.5 416.4,412.4 380.2,421.8" fill="#fff" stroke="none"/><line x1="394.1" y1="427.9" x2="430.3" y2="418.5" stroke="#150f70"/><line x1="430.3" y1="418.5" x2="416.4" y2="412.4" stroke="#150f70"/><line x1="380.2" y1="421.8" x2="416.4" y2="412.4" stroke="#150f70"/><line x1="394.1" y1="427.9" x2="380.2" y2="421.8" stroke="#150f70"/><polygon points="279.9,428.4 316.1,419 302.2,390.4 265.9,422.3" fill="#fff" stroke="none"/><line x1="279.9" y1="428.4" x2="316.1" y2="419" stroke="#150f70"/><line x1="316.1" y1="419" x2="302.2" y2="390.4" stroke="#150f70"/><line x1="265.9" y1="422.3" x2="302.2" y2="390.4" stroke="#150f70"/><line x1="279.9" y1="428.4" x2="265.9" y2="422.3" stroke="#150f70"/><polygon points="800.8,429.2 837,419.8 823.1,413.7 786.9,423.1" fill="#fff" stroke="none"/><line x1="800.8" y1="429.2" x2="837" y2="419.8" stroke="#150f70"/><line x1="837" y1="419.8" x2="823.1" y2="413.7" stroke="#150f70"/><line x1="786.9" y1="423.1" x2="823.1" y2="413.7" stroke="#150f70"/><line x1="800.8" y1="429.2" x2="786.9" y2="423.1" stroke="#150f70"/><polygon points="686.6,429.7 722.8,420.3 708.9,414.2 672.7,423.6" fill="#fff" stroke="none"/><line x1="686.6" y1="429.7" x2="722.8" y2="420.3" stroke="#150f70"/><line x1="722.8" y1="420.3" x2="708.9" y2="414.2" stroke="#150f70"/><line x1="672.7" y1="423.6" x2="708.9" y2="414.2" stroke="#150f70"/><line x1="686.6" y1="429.7" x2="672.7" y2="423.6" stroke="#150f70"/><polygon points="572.4,430.2 608.6,420.8 594.7,414.7 558.5,424.1" fill="#fff" stroke="none"/><line x1="572.4" y1="430.2" x2="608.6" y2="420.8" stroke="#150f70"/><line x1="608.6" y1="420.8" x2="594.7" y2="414.7" stroke="#150f70"/><line x1="558.5" y1="424.1" x2="594.7" y2="414.7" stroke="#150f70"/><line x1="572.4" y1="430.2" x2="558.5" y2="424.1" stroke="#150f70"/><polygon points="458.2,430.7 494.4,421.3 480.5,415.2 444.2,424.6" fill="#fff" stroke="none"/><line x1="458.2" y1="430.7" x2="494.4" y2="421.3" stroke="#150f70"/><line x1="494.4" y1="421.3" x2="480.5" y2="415.2" stroke="#150f70"/><line x1="444.2" y1="424.6" x2="480.5" y2="415.2" stroke="#150f70"/><line x1="458.2" y1="430.7" x2="444.2" y2="424.6" stroke="#150f70"/><polygon points="343.9,431.2 380.2,421.8 366.2,415.7 330,425.1" fill="#fff" stroke="none"/><line x1="343.9" y1="431.2" x2="380.2" y2="421.8" stroke="#150f70"/><line x1="380.2" y1="421.8" x2="366.2" y2="415.7" stroke="#150f70"/><line x1="330" y1="425.1" x2="366.2" y2="415.7" stroke="#150f70"/><line x1="343.9" y1="431.2" x2="330" y2="425.1" stroke="#150f70"/><polygon points="229.7,431.7 265.9,422.3 252,413.3 215.8,425.6" fill="#fff" stroke="none"/><line x1="229.7" y1="431.7" x2="265.9" y2="422.3" stroke="#150f70"/><line x1="265.9" y1="422.3" x2="252" y2="413.3" stroke="#150f70"/><line x1="215.8" y1="425.6" x2="252" y2="413.3" stroke="#150f70"/><line x1="229.7" y1="431.7" x2="215.8" y2="425.6" stroke="#150f70"/><polygon points="750.7,432.5 786.9,423.1 773,417 736.7,426.4" fill="#fff" stroke="none"/><line x1="750.7" y1="432.5" x2="786.9" y2="423.1" stroke="#150f70"/><line x1="786.9" y1="423.1" x2="773" y2="417" stroke="#150f70"/><line x1="736.7" y1="426.4" x2="773" y2="417" stroke="#150f70"/><line x1="750.7" y1="432.5" x2="736.7" y2="426.4" stroke="#150f70"/><polygon points="636.4,433 672.7,423.6 658.7,417.5 622.5,426.9" fill="#fff" stroke="none"/><line x1="636.4" y1="433" x2="672.7" y2="423.6" stroke="#150f70"/><line x1="672.7" y1="423.6" x2="658.7" y2="417.5" stroke="#150f70"/><line x1="622.5" y1="426.9" x2="658.7" y2="417.5" stroke="#150f70"/><line x1="636.4" y1="433" x2="622.5" y2="426.9" stroke="#150f70"/><polygon points="522.2,433.5 558.5,424.1 544.5,418 508.3,427.4" fill="#fff" stroke="none"/><line x1="522.2" y1="433.5" x2="558.5" y2="424.1" stroke="#150f70"/><line x1="558.5" y1="424.1" x2="544.5" y2="418" stroke="#150f70"/><line x1="508.3" y1="427.4" x2="544.5" y2="418" stroke="#150f70"/><line x1="522.2" y1="433.5" x2="508.3" y2="427.4" stroke="#150f70"/><polygon points="408,434 444.2,424.6 430.3,418.5 394.1,427.9" fill="#fff" stroke="none"/><line x1="408" y1="434" x2="444.2" y2="424.6" stroke="#150f70"/><line x1="444.2" y1="424.6" x2="430.3" y2="418.5" stroke="#150f70"/><line x1="394.1" y1="427.9" x2="430.3" y2="418.5" stroke="#150f70"/><line x1="408" y1="434" x2="394.1" y2="427.9" stroke="#150f70"/><polygon points="293.8,434.5 330,425.1 316.1,419 279.9,428.4" fill="#fff" stroke="none"/><line x1="293.8" y1="434.5" x2="330" y2="425.1" stroke="#150f70"/><line x1="330" y1="425.1" x2="316.1" y2="419" stroke="#150f70"/><line x1="279.9" y1="428.4" x2="316.1" y2="419" stroke="#150f70"/><line x1="293.8" y1="434.5" x2="279.9" y2="428.4" stroke="#150f70"/><polygon points="814.7,435.3 851,425.9 837,419.8 800.8,429.2" fill="#fff" stroke="none"/><line x1="814.7" y1="435.3" x2="851" y2="425.9" stroke="#150f70"/><line x1="851" y1="425.9" x2="837" y2="419.8" stroke="#150f70"/><line x1="800.8" y1="429.2" x2="837" y2="419.8" stroke="#150f70"/><line x1="814.7" y1="435.3" x2="800.8" y2="429.2" stroke="#150f70"/><polygon points="700.5,435.8 736.7,426.4 722.8,420.3 686.6,429.7" fill="#fff" stroke="none"/><line x1="700.5" y1="435.8" x2="736.7" y2="426.4" stroke="#150f70"/><line x1="736.7" y1="426.4" x2="722.8" y2="420.3" stroke="#150f70"/><line x1="686.6" y1="429.7" x2="722.8" y2="420.3" stroke="#150f70"/><line x1="700.5" y1="435.8" x2="686.6" y2="429.7" stroke="#150f70"/><polygon points="586.3,436.3 622.5,426.9 608.6,420.8 572.4,430.2" fill="#fff" stroke="none"/><line x1="586.3" y1="436.3" x2="622.5" y2="426.9" stroke="#150f70"/><line x1="622.5" y1="426.9" x2="608.6" y2="420.8" stroke="#150f70"/><line x1="572.4" y1="430.2" x2="608.6" y2="420.8" stroke="#150f70"/><line x1="586.3" y1="436.3" x2="572.4" y2="430.2" stroke="#150f70"/><polygon points="472.1,436.8 508.3,427.4 494.4,421.3 458.2,430.7" fill="#fff" stroke="none"/><line x1="472.1" y1="436.8" x2="508.3" y2="427.4" stroke="#150f70"/><line x1="508.3" y1="427.4" x2="494.4" y2="421.3" stroke="#150f70"/><line x1="458.2" y1="430.7" x2="494.4" y2="421.3" stroke="#150f70"/><line x1="472.1" y1="436.8" x2="458.2" y2="430.7" stroke="#150f70"/><polygon points="357.9,437.3 394.1,427.9 380.2,421.8 343.9,431.2" fill="#fff" stroke="none"/><line x1="357.9" y1="437.3" x2="394.1" y2="427.9" stroke="#150f70"/><line x1="394.1" y1="427.9" x2="380.2" y2="421.8" stroke="#150f70"/><line x1="343.9" y1="431.2" x2="380.2" y2="421.8" stroke="#150f70"/><line x1="357.9" y1="437.3" x2="343.9" y2="431.2" stroke="#150f70"/><polygon points="243.6,437.8 279.9,428.4 265.9,422.3 229.7,431.7" fill="#fff" stroke="none"/><line x1="243.6" y1="437.8" x2="279.9" y2="428.4" stroke="#150f70"/><line x1="279.9" y1="428.4" x2="265.9" y2="422.3" stroke="#150f70"/><line x1="229.7" y1="431.7" x2="265.9" y2="422.3" stroke="#150f70"/><line x1="243.6" y1="437.8" x2="229.7" y2="431.7" stroke="#150f70"/><polygon points="764.6,438.6 800.8,429.2 786.9,423.1 750.7,432.5" fill="#fff" stroke="none"/><line x1="764.6" y1="438.6" x2="800.8" y2="429.2" stroke="#150f70"/><line x1="800.8" y1="429.2" x2="786.9" y2="423.1" stroke="#150f70"/><line x1="750.7" y1="432.5" x2="786.9" y2="423.1" stroke="#150f70"/><line x1="764.6" y1="438.6" x2="750.7" y2="432.5" stroke="#150f70"/><polygon points="650.4,439.1 686.6,429.7 672.7,423.6 636.4,433" fill="#fff" stroke="none"/><line x1="650.4" y1="439.1" x2="686.6" y2="429.7" stroke="#150f70"/><line x1="686.6" y1="429.7" x2="672.7" y2="423.6" stroke="#150f70"/><line x1="636.4" y1="433" x2="672.7" y2="423.6" stroke="#150f70"/><line x1="650.4" y1="439.1" x2="636.4" y2="433" stroke="#150f70"/><polygon points="536.2,439.6 572.4,430.2 558.5,424.1 522.2,433.5" fill="#fff" stroke="none"/><line x1="536.2" y1="439.6" x2="572.4" y2="430.2" stroke="#150f70"/><line x1="572.4" y1="430.2" x2="558.5" y2="424.1" stroke="#150f70"/><line x1="522.2" y1="433.5" x2="558.5" y2="424.1" stroke="#150f70"/><line x1="536.2" y1="439.6" x2="522.2" y2="433.5" stroke="#150f70"/><polygon points="421.9,440.1 458.2,430.7 444.2,424.6 408,434" fill="#fff" stroke="none"/><line x1="421.9" y1="440.1" x2="458.2" y2="430.7" stroke="#150f70"/><line x1="458.2" y1="430.7" x2="444.2" y2="424.6" stroke="#150f70"/><line x1="408" y1="434" x2="444.2" y2="424.6" stroke="#150f70"/><line x1="421.9" y1="440.1" x2="408" y2="434" stroke="#150f70"/><polygon points="307.7,440.6 343.9,431.2 330,425.1 293.8,434.5" fill="#fff" stroke="none"/><line x1="307.7" y1="440.6" x2="343.9" y2="431.2" stroke="#150f70"/><line x1="343.9" y1="431.2" x2="330" y2="425.1" stroke="#150f70"/><line x1="293.8" y1="434.5" x2="330" y2="425.1" stroke="#150f70"/><line x1="307.7" y1="440.6" x2="293.8" y2="434.5" stroke="#150f70"/><polygon points="714.4,441.9 750.7,432.5 736.7,426.4 700.5,435.8" fill="#fff" stroke="none"/><line x1="714.4" y1="441.9" x2="750.7" y2="432.5" stroke="#150f70"/><line x1="750.7" y1="432.5" x2="736.7" y2="426.4" stroke="#150f70"/><line x1="700.5" y1="435.8" x2="736.7" y2="426.4" stroke="#150f70"/><line x1="714.4" y1="441.9" x2="700.5" y2="435.8" stroke="#150f70"/><polygon points="600.2,442.4 636.4,433 622.5,426.9 586.3,436.3" fill="#fff" stroke="none"/><line x1="600.2" y1="442.4" x2="636.4" y2="433" stroke="#150f70"/><line x1="636.4" y1="433" x2="622.5" y2="426.9" stroke="#150f70"/><line x1="586.3" y1="436.3" x2="622.5" y2="426.9" stroke="#150f70"/><line x1="600.2" y1="442.4" x2="586.3" y2="436.3" stroke="#150f70"/><polygon points="486,442.9 522.2,433.5 508.3,427.4 472.1,436.8" fill="#fff" stroke="none"/><line x1="486" y1="442.9" x2="522.2" y2="433.5" stroke="#150f70"/><line x1="522.2" y1="433.5" x2="508.3" y2="427.4" stroke="#150f70"/><line x1="472.1" y1="436.8" x2="508.3" y2="427.4" stroke="#150f70"/><line x1="486" y1="442.9" x2="472.1" y2="436.8" stroke="#150f70"/><polygon points="371.8,443.4 408,434 394.1,427.9 357.9,437.3" fill="#fff" stroke="none"/><line x1="371.8" y1="443.4" x2="408" y2="434" stroke="#150f70"/><line x1="408" y1="434" x2="394.1" y2="427.9" stroke="#150f70"/><line x1="357.9" y1="437.3" x2="394.1" y2="427.9" stroke="#150f70"/><line x1="371.8" y1="443.4" x2="357.9" y2="437.3" stroke="#150f70"/><polygon points="257.6,443.9 293.8,434.5 279.9,428.4 243.6,437.8" fill="#fff" stroke="none"/><line x1="257.6" y1="443.9" x2="293.8" y2="434.5" stroke="#150f70"/><line x1="293.8" y1="434.5" x2="279.9" y2="428.4" stroke="#150f70"/><line x1="243.6" y1="437.8" x2="279.9" y2="428.4" stroke="#150f70"/><line x1="257.6" y1="443.9" x2="243.6" y2="437.8" stroke="#150f70"/><polygon points="778.5,444.7 814.7,435.3 800.8,429.2 764.6,438.6" fill="#fff" stroke="none"/><line x1="778.5" y1="444.7" x2="814.7" y2="435.3" stroke="#150f70"/><line x1="814.7" y1="435.3" x2="800.8" y2="429.2" stroke="#150f70"/><line x1="764.6" y1="438.6" x2="800.8" y2="429.2" stroke="#150f70"/><line x1="778.5" y1="444.7" x2="764.6" y2="438.6" stroke="#150f70"/><polygon points="664.3,445.2 700.5,435.8 686.6,429.7 650.4,439.1" fill="#fff" stroke="none"/><line x1="664.3" y1="445.2" x2="700.5" y2="435.8" stroke="#150f70"/><line x1="700.5" y1="435.8" x2="686.6" y2="429.7" stroke="#150f70"/><line x1="650.4" y1="439.1" x2="686.6" y2="429.7" stroke="#150f70"/><line x1="664.3" y1="445.2" x2="650.4" y2="439.1" stroke="#150f70"/><polygon points="550.1,445.7 586.3,436.3 572.4,430.2 536.2,439.6" fill="#fff" stroke="none"/><line x1="550.1" y1="445.7" x2="586.3" y2="436.3" stroke="#150f70"/><line x1="586.3" y1="436.3" x2="572.4" y2="430.2" stroke="#150f70"/><line x1="536.2" y1="439.6" x2="572.4" y2="430.2" stroke="#150f70"/><line x1="550.1" y1="445.7" x2="536.2" y2="439.6" stroke="#150f70"/><polygon points="435.9,446.2 472.1,436.8 458.2,430.7 421.9,440.1" fill="#fff" stroke="none"/><line x1="435.9" y1="446.2" x2="472.1" y2="436.8" stroke="#150f70"/><line x1="472.1" y1="436.8" x2="458.2" y2="430.7" stroke="#150f70"/><line x1="421.9" y1="440.1" x2="458.2" y2="430.7" stroke="#150f70"/><line x1="435.9" y1="446.2" x2="421.9" y2="440.1" stroke="#150f70"/><polygon points="321.6,446.7 357.9,437.3 343.9,431.2 307.7,440.6" fill="#fff" stroke="none"/><line x1="321.6" y1="446.7" x2="357.9" y2="437.3" stroke="#150f70"/><line x1="357.9" y1="437.3" x2="343.9" y2="431.2" stroke="#150f70"/><line x1="307.7" y1="440.6" x2="343.9" y2="431.2" stroke="#150f70"/><line x1="321.6" y1="446.7" x2="307.7" y2="440.6" stroke="#150f70"/><polygon points="728.4,448 764.6,438.6 750.7,432.5 714.4,441.9" fill="#fff" stroke="none"/><line x1="728.4" y1="448" x2="764.6" y2="438.6" stroke="#150f70"/><line x1="764.6" y1="438.6" x2="750.7" y2="432.5" stroke="#150f70"/><line x1="714.4" y1="441.9" x2="750.7" y2="432.5" stroke="#150f70"/><line x1="728.4" y1="448" x2="714.4" y2="441.9" stroke="#150f70"/><polygon points="614.1,448.5 650.4,439.1 636.4,433 600.2,442.4" fill="#fff" stroke="none"/><line x1="614.1" y1="448.5" x2="650.4" y2="439.1" stroke="#150f70"/><line x1="650.4" y1="439.1" x2="636.4" y2="433" stroke="#150f70"/><line x1="600.2" y1="442.4" x2="636.4" y2="433" stroke="#150f70"/><line x1="614.1" y1="448.5" x2="600.2" y2="442.4" stroke="#150f70"/><polygon points="499.9,449 536.2,439.6 522.2,433.5 486,442.9" fill="#fff" stroke="none"/><line x1="499.9" y1="449" x2="536.2" y2="439.6" stroke="#150f70"/><line x1="536.2" y1="439.6" x2="522.2" y2="433.5" stroke="#150f70"/><line x1="486" y1="442.9" x2="522.2" y2="433.5" stroke="#150f70"/><line x1="499.9" y1="449" x2="486" y2="442.9" stroke="#150f70"/><polygon points="385.7,449.5 421.9,440.1 408,434 371.8,443.4" fill="#fff" stroke="none"/><line x1="385.7" y1="449.5" x2="421.9" y2="440.1" stroke="#150f70"/><line x1="421.9" y1="440.1" x2="408" y2="434" stroke="#150f70"/><line x1="371.8" y1="443.4" x2="408" y2="434" stroke="#150f70"/><line x1="385.7" y1="449.5" x2="371.8" y2="443.4" stroke="#150f70"/><polygon points="271.5,450 307.7,440.6 293.8,434.5 257.6,443.9" fill="#fff" stroke="none"/><line x1="271.5" y1="450" x2="307.7" y2="440.6" stroke="#150f70"/><line x1="307.7" y1="440.6" x2="293.8" y2="434.5" stroke="#150f70"/><line x1="257.6" y1="443.9" x2="293.8" y2="434.5" stroke="#150f70"/><line x1="271.5" y1="450" x2="257.6" y2="443.9" stroke="#150f70"/><polygon points="678.2,451.3 714.4,441.9 700.5,435.8 664.3,445.2" fill="#fff" stroke="none"/><line x1="678.2" y1="451.3" x2="714.4" y2="441.9" stroke="#150f70"/><line x1="714.4" y1="441.9" x2="700.5" y2="435.8" stroke="#150f70"/><line x1="664.3" y1="445.2" x2="700.5" y2="435.8" stroke="#150f70"/><line x1="678.2" y1="451.3" x2="664.3" y2="445.2" stroke="#150f70"/><polygon points="564,451.8 600.2,442.4 586.3,436.3 550.1,445.7" fill="#fff" stroke="none"/><line x1="564" y1="451.8" x2="600.2" y2="442.4" stroke="#150f70"/><line x1="600.2" y1="442.4" x2="586.3" y2="436.3" stroke="#150f70"/><line x1="550.1" y1="445.7" x2="586.3" y2="436.3" stroke="#150f70"/><line x1="564" y1="451.8" x2="550.1" y2="445.7" stroke="#150f70"/><polygon points="449.8,452.3 486,442.9 472.1,436.8 435.9,446.2" fill="#fff" stroke="none"/><line x1="449.8" y1="452.3" x2="486" y2="442.9" stroke="#150f70"/><line x1="486" y1="442.9" x2="472.1" y2="436.8" stroke="#150f70"/><line x1="435.9" y1="446.2" x2="472.1" y2="436.8" stroke="#150f70"/><line x1="449.8" y1="452.3" x2="435.9" y2="446.2" stroke="#150f70"/><polygon points="335.6,452.8 371.8,443.4 357.9,437.3 321.6,446.7" fill="#fff" stroke="none"/><line x1="335.6" y1="452.8" x2="371.8" y2="443.4" stroke="#150f70"/><line x1="371.8" y1="443.4" x2="357.9" y2="437.3" stroke="#150f70"/><line x1="321.6" y1="446.7" x2="357.9" y2="437.3" stroke="#150f70"/><line x1="335.6" y1="452.8" x2="321.6" y2="446.7" stroke="#150f70"/><polygon points="742.3,454.1 778.5,444.7 764.6,438.6 728.4,448" fill="#fff" stroke="none"/><line x1="742.3" y1="454.1" x2="778.5" y2="444.7" stroke="#150f70"/><line x1="778.5" y1="444.7" x2="764.6" y2="438.6" stroke="#150f70"/><line x1="728.4" y1="448" x2="764.6" y2="438.6" stroke="#150f70"/><line x1="742.3" y1="454.1" x2="728.4" y2="448" stroke="#150f70"/><polygon points="628.1,454.6 664.3,445.2 650.4,439.1 614.1,448.5" fill="#fff" stroke="none"/><line x1="628.1" y1="454.6" x2="664.3" y2="445.2" stroke="#150f70"/><line x1="664.3" y1="445.2" x2="650.4" y2="439.1" stroke="#150f70"/><line x1="614.1" y1="448.5" x2="650.4" y2="439.1" stroke="#150f70"/><line x1="628.1" y1="454.6" x2="614.1" y2="448.5" stroke="#150f70"/><polygon points="513.9,455.1 550.1,445.7 536.2,439.6 499.9,449" fill="#fff" stroke="none"/><line x1="513.9" y1="455.1" x2="550.1" y2="445.7" stroke="#150f70"/><line x1="550.1" y1="445.7" x2="536.2" y2="439.6" stroke="#150f70"/><line x1="499.9" y1="449" x2="536.2" y2="439.6" stroke="#150f70"/><line x1="513.9" y1="455.1" x2="499.9" y2="449" stroke="#150f70"/><polygon points="399.6,455.6 435.9,446.2 421.9,440.1 385.7,449.5" fill="#fff" stroke="none"/><line x1="399.6" y1="455.6" x2="435.9" y2="446.2" stroke="#150f70"/><line x1="435.9" y1="446.2" x2="421.9" y2="440.1" stroke="#150f70"/><line x1="385.7" y1="449.5" x2="421.9" y2="440.1" stroke="#150f70"/><line x1="399.6" y1="455.6" x2="385.7" y2="449.5" stroke="#150f70"/><polygon points="285.4,456.1 321.6,446.7 307.7,440.6 271.5,450" fill="#fff" stroke="none"/><line x1="285.4" y1="456.1" x2="321.6" y2="446.7" stroke="#150f70"/><line x1="321.6" y1="446.7" x2="307.7" y2="440.6" stroke="#150f70"/><line x1="271.5" y1="450" x2="307.7" y2="440.6" stroke="#150f70"/><line x1="285.4" y1="456.1" x2="271.5" y2="450" stroke="#150f70"/><polygon points="692.1,457.4 728.4,448 714.4,441.9 678.2,451.3" fill="#fff" stroke="none"/><line x1="692.1" y1="457.4" x2="728.4" y2="448" stroke="#150f70"/><line x1="728.4" y1="448" x2="714.4" y2="441.9" stroke="#150f70"/><line x1="678.2" y1="451.3" x2="714.4" y2="441.9" stroke="#150f70"/><line x1="692.1" y1="457.4" x2="678.2" y2="451.3" stroke="#150f70"/><polygon points="577.9,457.9 614.1,448.5 600.2,442.4 564,451.8" fill="#fff" stroke="none"/><line x1="577.9" y1="457.9" x2="614.1" y2="448.5" stroke="#150f70"/><line x1="614.1" y1="448.5" x2="600.2" y2="442.4" stroke="#150f70"/><line x1="564" y1="451.8" x2="600.2" y2="442.4" stroke="#150f70"/><line x1="577.9" y1="457.9" x2="564" y2="451.8" stroke="#150f70"/><polygon points="463.7,458.4 499.9,449 486,442.9 449.8,452.3" fill="#fff" stroke="none"/><line x1="463.7" y1="458.4" x2="499.9" y2="449" stroke="#150f70"/><line x1="499.9" y1="449" x2="486" y2="442.9" stroke="#150f70"/><line x1="449.8" y1="452.3" x2="486" y2="442.9" stroke="#150f70"/><line x1="463.7" y1="458.4" x2="449.8" y2="452.3" stroke="#150f70"/><polygon points="349.5,458.9 385.7,449.5 371.8,443.4 335.6,452.8" fill="#fff" stroke="none"/><line x1="349.5" y1="458.9" x2="385.7" y2="449.5" stroke="#150f70"/><line x1="385.7" y1="449.5" x2="371.8" y2="443.4" stroke="#150f70"/><line x1="335.6" y1="452.8" x2="371.8" y2="443.4" stroke="#150f70"/><line x1="349.5" y1="458.9" x2="335.6" y2="452.8" stroke="#150f70"/><polygon points="642,460.7 678.2,451.3 664.3,445.2 628.1,454.6" fill="#fff" stroke="none"/><line x1="642" y1="460.7" x2="678.2" y2="451.3" stroke="#150f70"/><line x1="678.2" y1="451.3" x2="664.3" y2="445.2" stroke="#150f70"/><line x1="628.1" y1="454.6" x2="664.3" y2="445.2" stroke="#150f70"/><line x1="642" y1="460.7" x2="628.1" y2="454.6" stroke="#150f70"/><polygon points="527.8,461.2 564,451.8 550.1,445.7 513.9,455.1" fill="#fff" stroke="none"/><line x1="527.8" y1="461.2" x2="564" y2="451.8" stroke="#150f70"/><line x1="564" y1="451.8" x2="550.1" y2="445.7" stroke="#150f70"/><line x1="513.9" y1="455.1" x2="550.1" y2="445.7" stroke="#150f70"/><line x1="527.8" y1="461.2" x2="513.9" y2="455.1" stroke="#150f70"/><polygon points="413.6,461.7 449.8,452.3 435.9,446.2 399.6,455.6" fill="#fff" stroke="none"/><line x1="413.6" y1="461.7" x2="449.8" y2="452.3" stroke="#150f70"/><line x1="449.8" y1="452.3" x2="435.9" y2="446.2" stroke="#150f70"/><line x1="399.6" y1="455.6" x2="435.9" y2="446.2" stroke="#150f70"/><line x1="413.6" y1="461.7" x2="399.6" y2="455.6" stroke="#150f70"/><polygon points="299.3,462.2 335.6,452.8 321.6,446.7 285.4,456.1" fill="#fff" stroke="none"/><line x1="299.3" y1="462.2" x2="335.6" y2="452.8" stroke="#150f70"/><line x1="335.6" y1="452.8" x2="321.6" y2="446.7" stroke="#150f70"/><line x1="285.4" y1="456.1" x2="321.6" y2="446.7" stroke="#150f70"/><line x1="299.3" y1="462.2" x2="285.4" y2="456.1" stroke="#150f70"/><polygon points="706.1,463.5 742.3,454.1 728.4,448 692.1,457.4" fill="#fff" stroke="none"/><line x1="706.1" y1="463.5" x2="742.3" y2="454.1" stroke="#150f70"/><line x1="742.3" y1="454.1" x2="728.4" y2="448" stroke="#150f70"/><line x1="692.1" y1="457.4" x2="728.4" y2="448" stroke="#150f70"/><line x1="706.1" y1="463.5" x2="692.1" y2="457.4" stroke="#150f70"/><polygon points="591.8,464 628.1,454.6 614.1,448.5 577.9,457.9" fill="#fff" stroke="none"/><line x1="591.8" y1="464" x2="628.1" y2="454.6" stroke="#150f70"/><line x1="628.1" y1="454.6" x2="614.1" y2="448.5" stroke="#150f70"/><line x1="577.9" y1="457.9" x2="614.1" y2="448.5" stroke="#150f70"/><line x1="591.8" y1="464" x2="577.9" y2="457.9" stroke="#150f70"/><polygon points="477.6,464.5 513.9,455.1 499.9,449 463.7,458.4" fill="#fff" stroke="none"/><line x1="477.6" y1="464.5" x2="513.9" y2="455.1" stroke="#150f70"/><line x1="513.9" y1="455.1" x2="499.9" y2="449" stroke="#150f70"/><line x1="463.7" y1="458.4" x2="499.9" y2="449" stroke="#150f70"/><line x1="477.6" y1="464.5" x2="463.7" y2="458.4" stroke="#150f70"/><polygon points="363.4,465 399.6,455.6 385.7,449.5 349.5,458.9" fill="#fff" stroke="none"/><line x1="363.4" y1="465" x2="399.6" y2="455.6" stroke="#150f70"/><line x1="399.6" y1="455.6" x2="385.7" y2="449.5" stroke="#150f70"/><line x1="349.5" y1="458.9" x2="385.7" y2="449.5" stroke="#150f70"/><line x1="363.4" y1="465" x2="349.5" y2="458.9" stroke="#150f70"/><polygon points="655.9,466.8 692.1,457.4 678.2,451.3 642,460.7" fill="#fff" stroke="none"/><line x1="655.9" y1="466.8" x2="692.1" y2="457.4" stroke="#150f70"/><line x1="692.1" y1="457.4" x2="678.2" y2="451.3" stroke="#150f70"/><line x1="642" y1="460.7" x2="678.2" y2="451.3" stroke="#150f70"/><line x1="655.9" y1="466.8" x2="642" y2="460.7" stroke="#150f70"/><polygon points="541.7,467.3 577.9,457.9 564,451.8 527.8,461.2" fill="#fff" stroke="none"/><line x1="541.7" y1="467.3" x2="577.9" y2="457.9" stroke="#150f70"/><line x1="577.9" y1="457.9" x2="564" y2="451.8" stroke="#150f70"/><line x1="527.8" y1="461.2" x2="564" y2="451.8" stroke="#150f70"/><line x1="541.7" y1="467.3" x2="527.8" y2="461.2" stroke="#150f70"/><polygon points="427.5,467.8 463.7,458.4 449.8,452.3 413.6,461.7" fill="#fff" stroke="none"/><line x1="427.5" y1="467.8" x2="463.7" y2="458.4" stroke="#150f70"/><line x1="463.7" y1="458.4" x2="449.8" y2="452.3" stroke="#150f70"/><line x1="413.6" y1="461.7" x2="449.8" y2="452.3" stroke="#150f70"/><line x1="427.5" y1="467.8" x2="413.6" y2="461.7" stroke="#150f70"/><polygon points="313.3,468.3 349.5,458.9 335.6,452.8 299.3,462.2" fill="#fff" stroke="none"/><line x1="313.3" y1="468.3" x2="349.5" y2="458.9" stroke="#150f70"/><line x1="349.5" y1="458.9" x2="335.6" y2="452.8" stroke="#150f70"/><line x1="299.3" y1="462.2" x2="335.6" y2="452.8" stroke="#150f70"/><line x1="313.3" y1="468.3" x2="299.3" y2="462.2" stroke="#150f70"/><polygon points="605.8,470.1 642,460.7 628.1,454.6 591.8,464" fill="#fff" stroke="none"/><line x1="605.8" y1="470.1" x2="642" y2="460.7" stroke="#150f70"/><line x1="642" y1="460.7" x2="628.1" y2="454.6" stroke="#150f70"/><line x1="591.8" y1="464" x2="628.1" y2="454.6" stroke="#150f70"/><line x1="605.8" y1="470.1" x2="591.8" y2="464" stroke="#150f70"/><polygon points="491.6,470.6 527.8,461.2 513.9,455.1 477.6,464.5" fill="#fff" stroke="none"/><line x1="491.6" y1="470.6" x2="527.8" y2="461.2" stroke="#150f70"/><line x1="527.8" y1="461.2" x2="513.9" y2="455.1" stroke="#150f70"/><line x1="477.6" y1="464.5" x2="513.9" y2="455.1" stroke="#150f70"/><line x1="491.6" y1="470.6" x2="477.6" y2="464.5" stroke="#150f70"/><polygon points="377.3,471.1 413.6,461.7 399.6,455.6 363.4,465" fill="#fff" stroke="none"/><line x1="377.3" y1="471.1" x2="413.6" y2="461.7" stroke="#150f70"/><line x1="413.6" y1="461.7" x2="399.6" y2="455.6" stroke="#150f70"/><line x1="363.4" y1="465" x2="399.6" y2="455.6" stroke="#150f70"/><line x1="377.3" y1="471.1" x2="363.4" y2="465" stroke="#150f70"/><polygon points="669.8,472.9 706.1,463.5 692.1,457.4 655.9,466.8" fill="#fff" stroke="none"/><line x1="669.8" y1="472.9" x2="706.1" y2="463.5" stroke="#150f70"/><line x1="706.1" y1="463.5" x2="692.1" y2="457.4" stroke="#150f70"/><line x1="655.9" y1="466.8" x2="692.1" y2="457.4" stroke="#150f70"/><line x1="669.8" y1="472.9" x2="655.9" y2="466.8" stroke="#150f70"/><polygon points="555.6,473.4 591.8,464 577.9,457.9 541.7,467.3" fill="#fff" stroke="none"/><line x1="555.6" y1="473.4" x2="591.8" y2="464" stroke="#150f70"/><line x1="591.8" y1="464" x2="577.9" y2="457.9" stroke="#150f70"/><line x1="541.7" y1="467.3" x2="577.9" y2="457.9" stroke="#150f70"/><line x1="555.6" y1="473.4" x2="541.7" y2="467.3" stroke="#150f70"/><polygon points="441.4,473.9 477.6,464.5 463.7,458.4 427.5,467.8" fill="#fff" stroke="none"/><line x1="441.4" y1="473.9" x2="477.6" y2="464.5" stroke="#150f70"/><line x1="477.6" y1="464.5" x2="463.7" y2="458.4" stroke="#150f70"/><line x1="427.5" y1="467.8" x2="463.7" y2="458.4" stroke="#150f70"/><line x1="441.4" y1="473.9" x2="427.5" y2="467.8" stroke="#150f70"/><polygon points="327.2,474.4 363.4,465 349.5,458.9 313.3,468.3" fill="#fff" stroke="none"/><line x1="327.2" y1="474.4" x2="363.4" y2="465" stroke="#150f70"/><line x1="363.4" y1="465" x2="349.5" y2="458.9" stroke="#150f70"/><line x1="313.3" y1="468.3" x2="349.5" y2="458.9" stroke="#150f70"/><line x1="327.2" y1="474.4" x2="313.3" y2="468.3" stroke="#150f70"/><polygon points="619.7,476.2 655.9,466.8 642,460.7 605.8,470.1" fill="#fff" stroke="none"/><line x1="619.7" y1="476.2" x2="655.9" y2="466.8" stroke="#150f70"/><line x1="655.9" y1="466.8" x2="642" y2="460.7" stroke="#150f70"/><line x1="605.8" y1="470.1" x2="642" y2="460.7" stroke="#150f70"/><line x1="619.7" y1="476.2" x2="605.8" y2="470.1" stroke="#150f70"/><polygon points="505.5,476.7 541.7,467.3 527.8,461.2 491.6,470.6" fill="#fff" stroke="none"/><line x1="505.5" y1="476.7" x2="541.7" y2="467.3" stroke="#150f70"/><line x1="541.7" y1="467.3" x2="527.8" y2="461.2" stroke="#150f70"/><line x1="491.6" y1="470.6" x2="527.8" y2="461.2" stroke="#150f70"/><line x1="505.5" y1="476.7" x2="491.6" y2="470.6" stroke="#150f70"/><polygon points="391.3,477.2 427.5,467.8 413.6,461.7 377.3,471.1" fill="#fff" stroke="none"/><line x1="391.3" y1="477.2" x2="427.5" y2="467.8" stroke="#150f70"/><line x1="427.5" y1="467.8" x2="413.6" y2="461.7" stroke="#150f70"/><line x1="377.3" y1="471.1" x2="413.6" y2="461.7" stroke="#150f70"/><line x1="391.3" y1="477.2" x2="377.3" y2="471.1" stroke="#150f70"/><polygon points="569.5,479.5 605.8,470.1 591.8,464 555.6,473.4" fill="#fff" stroke="none"/><line x1="569.5" y1="479.5" x2="605.8" y2="470.1" stroke="#150f70"/><line x1="605.8" y1="470.1" x2="591.8" y2="464" stroke="#150f70"/><line x1="555.6" y1="473.4" x2="591.8" y2="464" stroke="#150f70"/><line x1="569.5" y1="479.5" x2="555.6" y2="473.4" stroke="#150f70"/><polygon points="455.3,480 491.6,470.6 477.6,464.5 441.4,473.9" fill="#fff" stroke="none"/><line x1="455.3" y1="480" x2="491.6" y2="470.6" stroke="#150f70"/><line x1="491.6" y1="470.6" x2="477.6" y2="464.5" stroke="#150f70"/><line x1="441.4" y1="473.9" x2="477.6" y2="464.5" stroke="#150f70"/><line x1="455.3" y1="480" x2="441.4" y2="473.9" stroke="#150f70"/><polygon points="341.1,480.5 377.3,471.1 363.4,465 327.2,474.4" fill="#fff" stroke="none"/><line x1="341.1" y1="480.5" x2="377.3" y2="471.1" stroke="#150f70"/><line x1="377.3" y1="471.1" x2="363.4" y2="465" stroke="#150f70"/><line x1="327.2" y1="474.4" x2="363.4" y2="465" stroke="#150f70"/><line x1="341.1" y1="480.5" x2="327.2" y2="474.4" stroke="#150f70"/><polygon points="633.6,482.3 669.8,472.9 655.9,466.8 619.7,476.2" fill="#fff" stroke="none"/><line x1="633.6" y1="482.3" x2="669.8" y2="472.9" stroke="#150f70"/><line x1="669.8" y1="472.9" x2="655.9" y2="466.8" stroke="#150f70"/><line x1="619.7" y1="476.2" x2="655.9" y2="466.8" stroke="#150f70"/><line x1="633.6" y1="482.3" x2="619.7" y2="476.2" stroke="#150f70"/><polygon points="519.4,482.8 555.6,473.4 541.7,467.3 505.5,476.7" fill="#fff" stroke="none"/><line x1="519.4" y1="482.8" x2="555.6" y2="473.4" stroke="#150f70"/><line x1="555.6" y1="473.4" x2="541.7" y2="467.3" stroke="#150f70"/><line x1="505.5" y1="476.7" x2="541.7" y2="467.3" stroke="#150f70"/><line x1="519.4" y1="482.8" x2="505.5" y2="476.7" stroke="#150f70"/><polygon points="405.2,483.3 441.4,473.9 427.5,467.8 391.3,477.2" fill="#fff" stroke="none"/><line x1="405.2" y1="483.3" x2="441.4" y2="473.9" stroke="#150f70"/><line x1="441.4" y1="473.9" x2="427.5" y2="467.8" stroke="#150f70"/><line x1="391.3" y1="477.2" x2="427.5" y2="467.8" stroke="#150f70"/><line x1="405.2" y1="483.3" x2="391.3" y2="477.2" stroke="#150f70"/><polygon points="583.5,485.6 619.7,476.2 605.8,470.1 569.5,479.5" fill="#fff" stroke="none"/><line x1="583.5" y1="485.6" x2="619.7" y2="476.2" stroke="#150f70"/><line x1="619.7" y1="476.2" x2="605.8" y2="470.1" stroke="#150f70"/><line x1="569.5" y1="479.5" x2="605.8" y2="470.1" stroke="#150f70"/><line x1="583.5" y1="485.6" x2="569.5" y2="479.5" stroke="#150f70"/><polygon points="469.3,486.1 505.5,476.7 491.6,470.6 455.3,480" fill="#fff" stroke="none"/><line x1="469.3" y1="486.1" x2="505.5" y2="476.7" stroke="#150f70"/><line x1="505.5" y1="476.7" x2="491.6" y2="470.6" stroke="#150f70"/><line x1="455.3" y1="480" x2="491.6" y2="470.6" stroke="#150f70"/><line x1="469.3" y1="486.1" x2="455.3" y2="480" stroke="#150f70"/><polygon points="355,486.6 391.3,477.2 377.3,471.1 341.1,480.5" fill="#fff" stroke="none"/><line x1="355" y1="486.6" x2="391.3" y2="477.2" stroke="#150f70"/><line x1="391.3" y1="477.2" x2="377.3" y2="471.1" stroke="#150f70"/><line x1="341.1" y1="480.5" x2="377.3" y2="471.1" stroke="#150f70"/><line x1="355" y1="486.6" x2="341.1" y2="480.5" stroke="#150f70"/><polygon points="533.3,488.9 569.5,479.5 555.6,473.4 519.4,482.8" fill="#fff" stroke="none"/><line x1="533.3" y1="488.9" x2="569.5" y2="479.5" stroke="#150f70"/><line x1="569.5" y1="479.5" x2="555.6" y2="473.4" stroke="#150f70"/><line x1="519.4" y1="482.8" x2="555.6" y2="473.4" stroke="#150f70"/><line x1="533.3" y1="488.9" x2="519.4" y2="482.8" stroke="#150f70"/><polygon points="419.1,489.4 455.3,480 441.4,473.9 405.2,483.3" fill="#fff" stroke="none"/><line x1="419.1" y1="489.4" x2="455.3" y2="480" stroke="#150f70"/><line x1="455.3" y1="480" x2="441.4" y2="473.9" stroke="#150f70"/><line x1="405.2" y1="483.3" x2="441.4" y2="473.9" stroke="#150f70"/><line x1="419.1" y1="489.4" x2="405.2" y2="483.3" stroke="#150f70"/><polygon points="597.4,491.7 633.6,482.3 619.7,476.2 583.5,485.6" fill="#fff" stroke="none"/><line x1="597.4" y1="491.7" x2="633.6" y2="482.3" stroke="#150f70"/><line x1="633.6" y1="482.3" x2="619.7" y2="476.2" stroke="#150f70"/><line x1="583.5" y1="485.6" x2="619.7" y2="476.2" stroke="#150f70"/><line x1="597.4" y1="491.7" x2="583.5" y2="485.6" stroke="#150f70"/><polygon points="483.2,492.2 519.4,482.8 505.5,476.7 469.3,486.1" fill="#fff" stroke="none"/><line x1="483.2" y1="492.2" x2="519.4" y2="482.8" stroke="#150f70"/><line x1="519.4" y1="482.8" x2="505.5" y2="476.7" stroke="#150f70"/><line x1="469.3" y1="486.1" x2="505.5" y2="476.7" stroke="#150f70"/><line x1="483.2" y1="492.2" x2="469.3" y2="486.1" stroke="#150f70"/><polygon points="369,492.7 405.2,483.3 391.3,477.2 355,486.6" fill="#fff" stroke="none"/><line x1="369" y1="492.7" x2="405.2" y2="483.3" stroke="#150f70"/><line x1="405.2" y1="483.3" x2="391.3" y2="477.2" stroke="#150f70"/><line x1="355" y1="486.6" x2="391.3" y2="477.2" stroke="#150f70"/><line x1="369" y1="492.7" x2="355" y2="486.6" stroke="#150f70"/><polygon points="547.2,495 583.5,485.6 569.5,479.5 533.3,488.9" fill="#fff" stroke="none"/><line x1="547.2" y1="495" x2="583.5" y2="485.6" stroke="#150f70"/><line x1="583.5" y1="485.6" x2="569.5" y2="479.5" stroke="#150f70"/><line x1="533.3" y1="488.9" x2="569.5" y2="479.5" stroke="#150f70"/><line x1="547.2" y1="495" x2="533.3" y2="488.9" stroke="#150f70"/><polygon points="433,495.5 469.3,486.1 455.3,480 419.1,489.4" fill="#fff" stroke="none"/><line x1="433" y1="495.5" x2="469.3" y2="486.1" stroke="#150f70"/><line x1="469.3" y1="486.1" x2="455.3" y2="480" stroke="#150f70"/><line x1="419.1" y1="489.4" x2="455.3" y2="480" stroke="#150f70"/><line x1="433" y1="495.5" x2="419.1" y2="489.4" stroke="#150f70"/><polygon points="497.1,498.3 533.3,488.9 519.4,482.8 483.2,492.2" fill="#fff" stroke="none"/><line x1="497.1" y1="498.3" x2="533.3" y2="488.9" stroke="#150f70"/><line x1="533.3" y1="488.9" x2="519.4" y2="482.8" stroke="#150f70"/><line x1="483.2" y1="492.2" x2="519.4" y2="482.8" stroke="#150f70"/><line x1="497.1" y1="498.3" x2="483.2" y2="492.2" stroke="#150f70"/><polygon points="382.9,498.8 419.1,489.4 405.2,483.3 369,492.7" fill="#fff" stroke="none"/><line x1="382.9" y1="498.8" x2="419.1" y2="489.4" stroke="#150f70"/><line x1="419.1" y1="489.4" x2="405.2" y2="483.3" stroke="#150f70"/><line x1="369" y1="492.7" x2="405.2" y2="483.3" stroke="#150f70"/><line x1="382.9" y1="498.8" x2="369" y2="492.7" stroke="#150f70"/><polygon points="561.2,501.1 597.4,491.7 583.5,485.6 547.2,495" fill="#fff" stroke="none"/><line x1="561.2" y1="501.1" x2="597.4" y2="491.7" stroke="#150f70"/><line x1="597.4" y1="491.7" x2="583.5" y2="485.6" stroke="#150f70"/><line x1="547.2" y1="495" x2="583.5" y2="485.6" stroke="#150f70"/><line x1="561.2" y1="501.1" x2="547.2" y2="495" stroke="#150f70"/><polygon points="447,501.6 483.2,492.2 469.3,486.1 433,495.5" fill="#fff" stroke="none"/><line x1="447" y1="501.6" x2="483.2" y2="492.2" stroke="#150f70"/><line x1="483.2" y1="492.2" x2="469.3" y2="486.1" stroke="#150f70"/><line x1="433" y1="495.5" x2="469.3" y2="486.1" stroke="#150f70"/><line x1="447" y1="501.6" x2="433" y2="495.5" stroke="#150f70"/><polygon points="511,504.4 547.2,495 533.3,488.9 497.1,498.3" fill="#fff" stroke="none"/><line x1="511" y1="504.4" x2="547.2" y2="495" stroke="#150f70"/><line x1="547.2" y1="495" x2="533.3" y2="488.9" stroke="#150f70"/><line x1="497.1" y1="498.3" x2="533.3" y2="488.9" stroke="#150f70"/><line x1="511" y1="504.4" x2="497.1" y2="498.3" stroke="#150f70"/><polygon points="396.8,504.9 433,495.5 419.1,489.4 382.9,498.8" fill="#fff" stroke="none"/><line x1="396.8" y1="504.9" x2="433" y2="495.5" stroke="#150f70"/><line x1="433" y1="495.5" x2="419.1" y2="489.4" stroke="#150f70"/><line x1="382.9" y1="498.8" x2="419.1" y2="489.4" stroke="#150f70"/><line x1="396.8" y1="504.9" x2="382.9" y2="498.8" stroke="#150f70"/><polygon points="460.9,507.7 497.1,498.3 483.2,492.2 447,501.6" fill="#fff" stroke="none"/><line x1="460.9" y1="507.7" x2="497.1" y2="498.3" stroke="#150f70"/><line x1="497.1" y1="498.3" x2="483.2" y2="492.2" stroke="#150f70"/><line x1="447" y1="501.6" x2="483.2" y2="492.2" stroke="#150f70"/><line x1="460.9" y1="507.7" x2="447" y2="501.6" stroke="#150f70"/><polygon points="524.9,510.5 561.2,501.1 547.2,495 511,504.4" fill="#fff" stroke="none"/><line x1="524.9" y1="510.5" x2="561.2" y2="501.1" stroke="#150f70"/><line x1="561.2" y1="501.1" x2="547.2" y2="495" stroke="#150f70"/><line x1="511" y1="504.4" x2="547.2" y2="495" stroke="#150f70"/><line x1="524.9" y1="510.5" x2="511" y2="504.4" stroke="#150f70"/><polygon points="410.7,511 447,501.6 433,495.5 396.8,504.9" fill="#fff" stroke="none"/><line x1="410.7" y1="511" x2="447" y2="501.6" stroke="#150f70"/><line x1="447" y1="501.6" x2="433" y2="495.5" stroke="#150f70"/><line x1="396.8" y1="504.9" x2="433" y2="495.5" stroke="#150f70"/><line x1="410.7" y1="511" x2="396.8" y2="504.9" stroke="#150f70"/><polygon points="474.8,513.8 511,504.4 497.1,498.3 460.9,507.7" fill="#fff" stroke="none"/><line x1="474.8" y1="513.8" x2="511" y2="504.4" stroke="#150f70"/><line x1="511" y1="504.4" x2="497.1" y2="498.3" stroke="#150f70"/><line x1="460.9" y1="507.7" x2="497.1" y2="498.3" stroke="#150f70"/><line x1="474.8" y1="513.8" x2="460.9" y2="507.7" stroke="#150f70"/><polygon points="424.7,517.1 460.9,507.7 447,501.6 410.7,511" fill="#fff" stroke="none"/><line x1="424.7" y1="517.1" x2="460.9" y2="507.7" stroke="#150f70"/><line x1="460.9" y1="507.7" x2="447" y2="501.6" stroke="#150f70"/><line x1="410.7" y1="511" x2="447" y2="501.6" stroke="#150f70"/><line x1="424.7" y1="517.1" x2="410.7" y2="511" stroke="#150f70"/><polygon points="488.7,519.9 524.9,510.5 511,504.4 474.8,513.8" fill="#fff" stroke="none"/><line x1="488.7" y1="519.9" x2="524.9" y2="510.5" stroke="#150f70"/><line x1="524.9" y1="510.5" x2="511" y2="504.4" stroke="#150f70"/><line x1="474.8" y1="513.8" x2="511" y2="504.4" stroke="#150f70"/><line x1="488.7" y1="519.9" x2="474.8" y2="513.8" stroke="#150f70"/><polygon points="438.6,523.2 474.8,513.8 460.9,507.7 424.7,517.1" fill="#fff" stroke="none"/><line x1="438.6" y1="523.2" x2="474.8" y2="513.8" stroke="#150f70"/><line x1="474.8" y1="513.8" x2="460.9" y2="507.7" stroke="#150f70"/><line x1="424.7" y1="517.1" x2="460.9" y2="507.7" stroke="#150f70"/><line x1="438.6" y1="523.2" x2="424.7" y2="517.1" stroke="#150f70"/><polygon points="452.5,529.3 488.7,519.9 474.8,513.8 438.6,523.2" fill="#fff" stroke="none"/><line x1="452.5" y1="529.3" x2="488.7" y2="519.9" stroke="#150f70"/><line x1="488.7" y1="519.9" x2="474.8" y2="513.8" stroke="#150f70"/><line x1="438.6" y1="523.2" x2="474.8" y2="513.8" stroke="#150f70"/><line x1="452.5" y1="529.3" x2="438.6" y2="523.2" stroke="#150f70"/></g>
<g stroke-width="1.9" stroke-linecap="round" stroke-linejoin="round"><polyline points="212.3,428.2 193.1,423.5 180.9,416.9 170.2,410" fill="none" stroke="#1f2da9"/><polyline points="203.2,420.9 194.3,413.5" fill="none" stroke="#055dd3"/></g>
<g stroke-linecap="butt"><line x1="104.4" y1="531.3" x2="104.4" y2="197.4" stroke="#000" stroke-width="1.9"/><line x1="104.4" y1="531.3" x2="452.5" y2="683.8" stroke="#000" stroke-width="1.9"/><line x1="452.5" y1="683.8" x2="905.3" y2="566.4" stroke="#000" stroke-width="1.9"/><line x1="104.4" y1="483.6" x2="93.1" y2="478.7" stroke="#000" stroke-width="1.9"/><line x1="104.4" y1="388.2" x2="93.1" y2="383.3" stroke="#000" stroke-width="1.9"/><line x1="104.4" y1="292.8" x2="93.1" y2="287.9" stroke="#000" stroke-width="1.9"/><line x1="104.4" y1="197.4" x2="93.1" y2="192.5" stroke="#000" stroke-width="1.9"/><line x1="104.4" y1="531.3" x2="92.5" y2="534.4" stroke="#000" stroke-width="1.9"/><line x1="191.4" y1="569.4" x2="179.5" y2="572.5" stroke="#000" stroke-width="1.9"/><line x1="278.4" y1="607.5" x2="266.5" y2="610.6" stroke="#000" stroke-width="1.9"/><line x1="365.5" y1="645.7" x2="353.6" y2="648.8" stroke="#000" stroke-width="1.9"/><line x1="452.5" y1="683.8" x2="440.6" y2="686.9" stroke="#000" stroke-width="1.9"/><line x1="452.5" y1="683.8" x2="463.8" y2="688.7" stroke="#000" stroke-width="1.9"/><line x1="678.9" y1="625.1" x2="690.2" y2="630" stroke="#000" stroke-width="1.9"/><line x1="905.3" y1="566.4" x2="916.6" y2="571.3" stroke="#000" stroke-width="1.9"/></g>
<text x="482" y="22.8" font-size="29.7" style="font-family:'Liberation Serif','Times New Roman',serif" text-anchor="middle" fill="#000" transform="translate(0 22.8) scale(1 1.06) translate(0 -22.8)">SVC parameter selection result (3D view)</text><text x="505" y="66.6" font-size="29.8" style="font-family:'Liberation Sans',Arial,sans-serif" text-anchor="middle" fill="#000" transform="translate(0 66.6) scale(1 1.05) translate(0 -66.6)">Best c=0.16494 g=6.9644 CVAccuracy=100%</text><text x="82" y="199.9" font-size="24" style="font-family:'Liberation Sans',Arial,sans-serif" text-anchor="end" fill="#000">100</text><text x="82" y="295.0" font-size="24" style="font-family:'Liberation Sans',Arial,sans-serif" text-anchor="end" fill="#000">80</text><text x="82" y="390.8" font-size="24" style="font-family:'Liberation Sans',Arial,sans-serif" text-anchor="end" fill="#000">60</text><text x="82" y="486.1" font-size="24" style="font-family:'Liberation Sans',Arial,sans-serif" text-anchor="end" fill="#000">40</text><text x="26.2" y="365.3" font-size="30" style="font-family:'Liberation Sans',Arial,sans-serif" text-anchor="middle" fill="#000" transform="rotate(-90 26.2 365.3)">Accuracy(%)</text><text x="82" y="562" font-size="24" style="font-family:'Liberation Sans',Arial,sans-serif" text-anchor="end" fill="#000">10</text><text x="168.5" y="601.5" font-size="24" style="font-family:'Liberation Sans',Arial,sans-serif" text-anchor="end" fill="#000">5</text><text x="255.5" y="640" font-size="24" style="font-family:'Liberation Sans',Arial,sans-serif" text-anchor="end" fill="#000">0</text><text x="343" y="677" font-size="24" style="font-family:'Liberation Sans',Arial,sans-serif" text-anchor="end" fill="#000">-5</text><text x="431" y="715.2" font-size="24" style="font-family:'Liberation Sans',Arial,sans-serif" text-anchor="end" fill="#000">-10</text><text x="471.6" y="719.7" font-size="24" style="font-family:'Liberation Sans',Arial,sans-serif" text-anchor="start" fill="#000">-5</text><text x="699" y="659.7" font-size="24" style="font-family:'Liberation Sans',Arial,sans-serif" text-anchor="start" fill="#000">0</text><text x="927.4" y="601.2" font-size="24" style="font-family:'Liberation Sans',Arial,sans-serif" text-anchor="start" fill="#000">5</text><text x="215" y="720.5" font-size="29.5" style="font-family:'Liberation Sans',Arial,sans-serif" text-anchor="start" fill="#000">log2g</text><text x="629.5" y="728" font-size="29.5" style="font-family:'Liberation Sans',Arial,sans-serif" text-anchor="start" fill="#000">log2c</text>
</svg>
</body></html>
